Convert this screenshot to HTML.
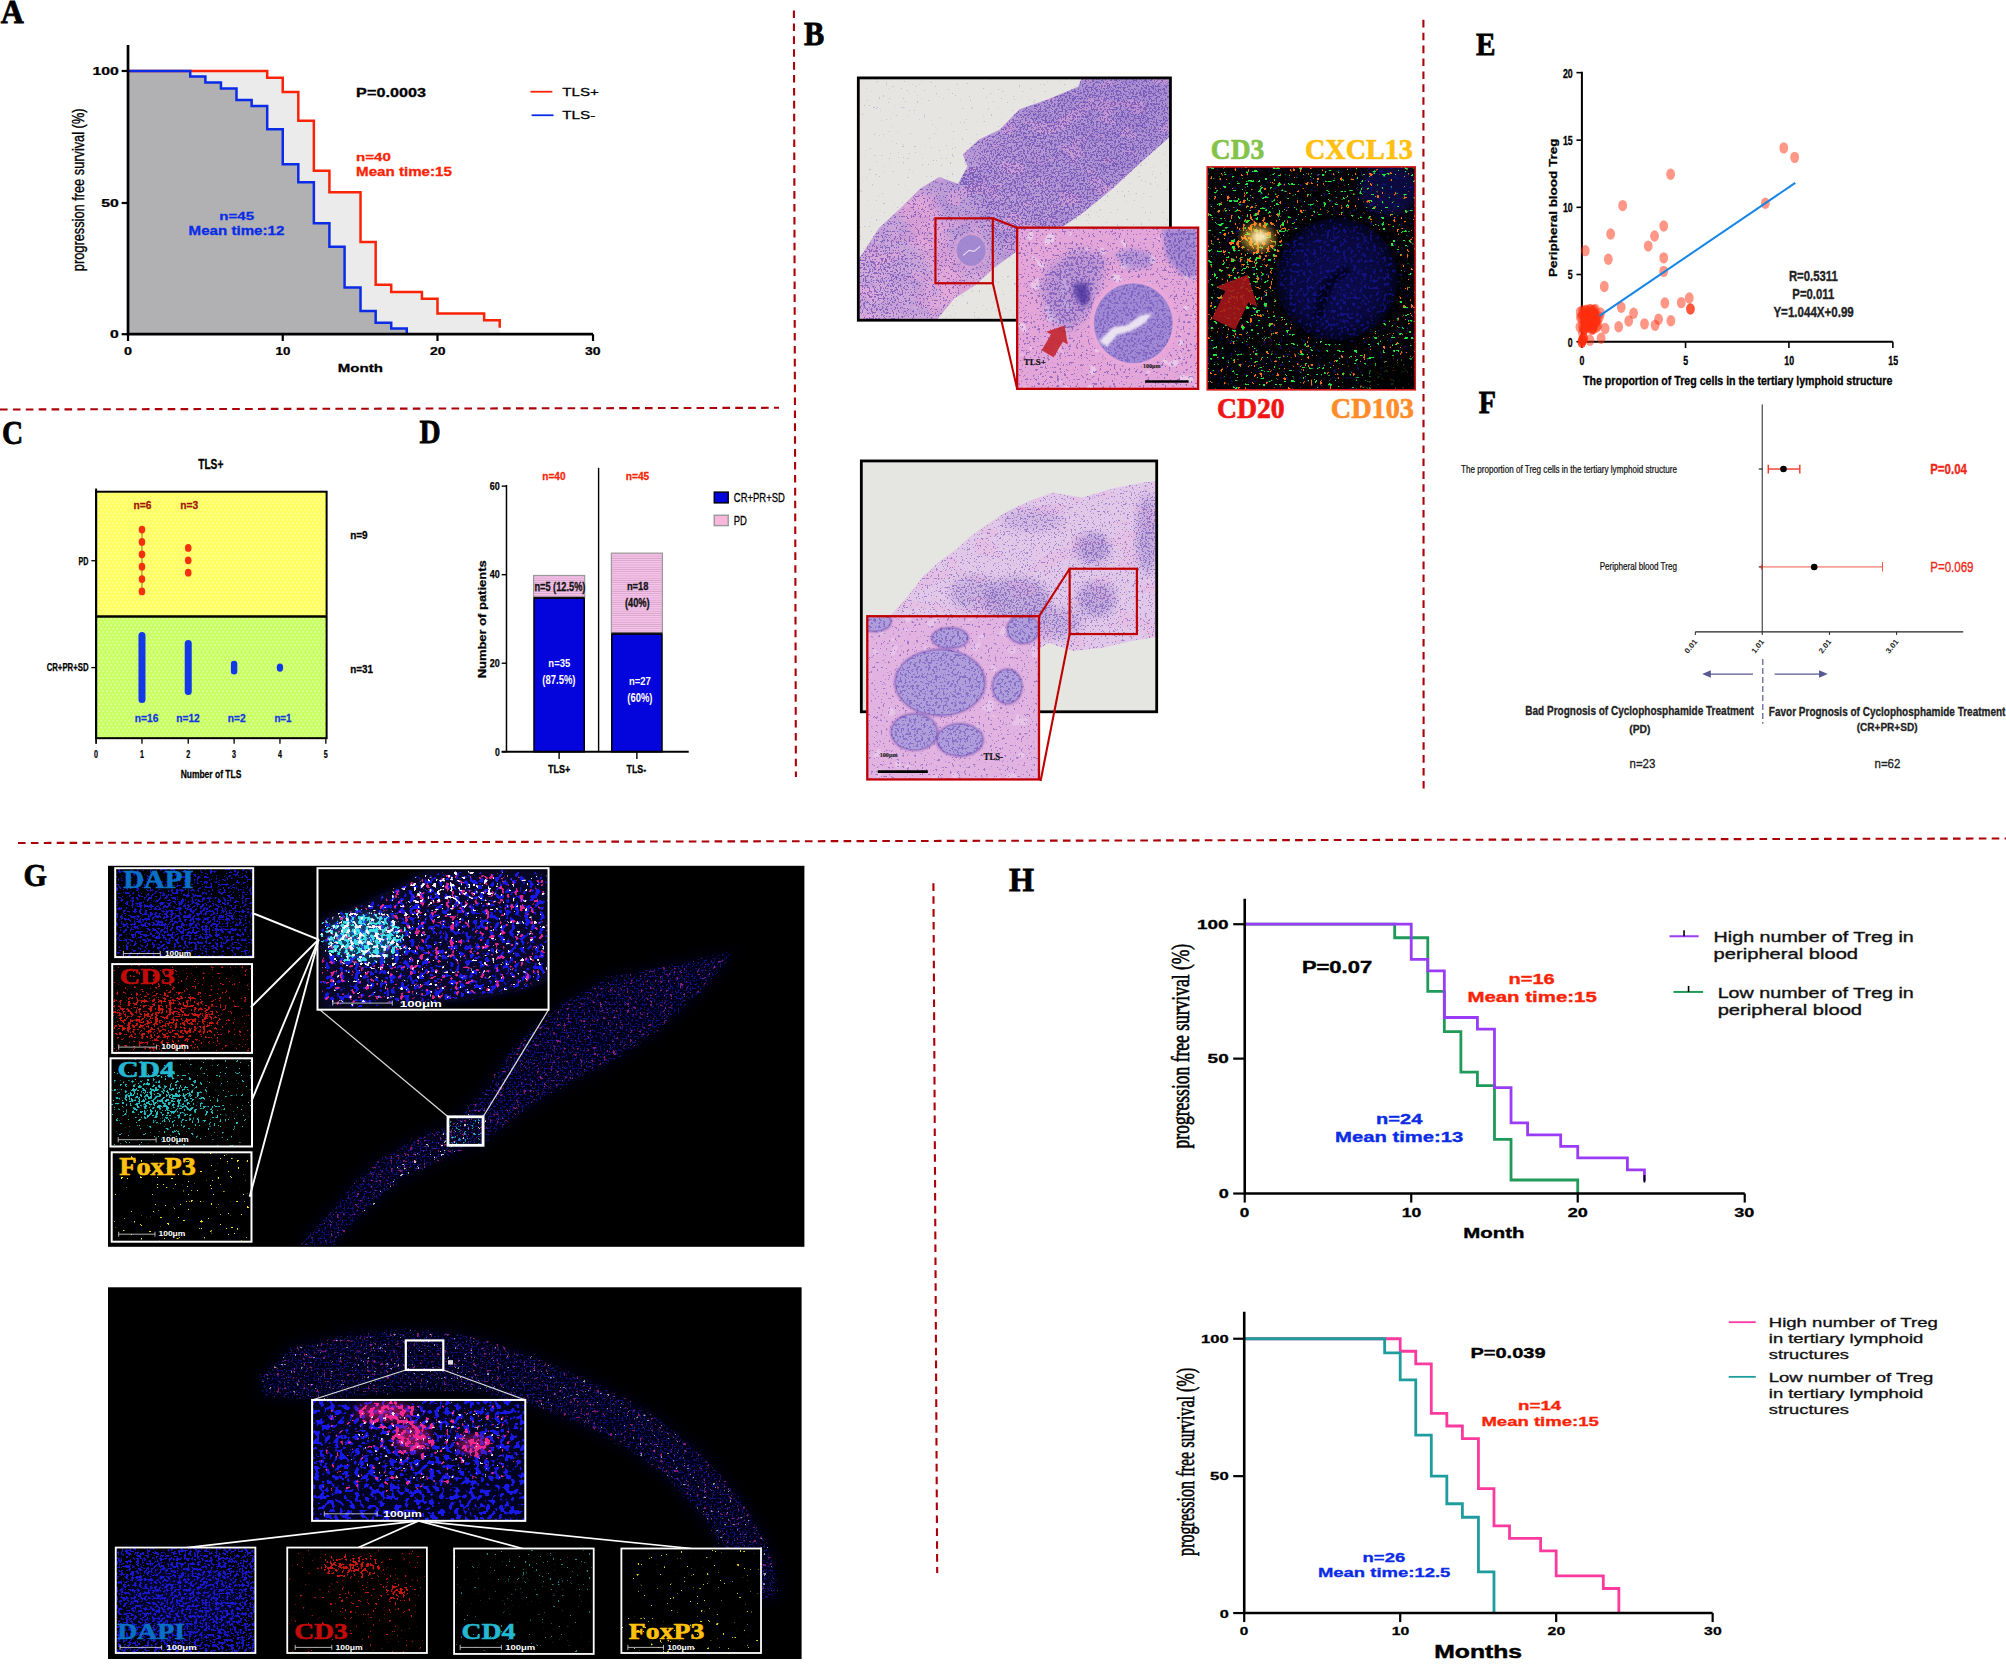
<!DOCTYPE html>
<html lang="en"><head><meta charset="utf-8"><title>Figure</title>
<style>html,body{margin:0;padding:0;background:#fff;}svg{display:block;}</style></head><body>
<svg width="2006" height="1668" viewBox="0 0 2006 1668">
<defs>
<pattern id="dotY" width="4" height="6.6" patternUnits="userSpaceOnUse"><rect width="4" height="6.6" fill="#ffff62"/><rect x="0.5" y="0.6" width="1.4" height="1.8" rx="0.6" fill="#ffffb0"/><rect x="2.5" y="3.9" width="1.4" height="1.8" rx="0.6" fill="#ffffb0"/></pattern>
<pattern id="dotG" width="4" height="6.6" patternUnits="userSpaceOnUse"><rect width="4" height="6.6" fill="#c8ff62"/><rect x="0.5" y="0.6" width="1.4" height="1.8" rx="0.6" fill="#ecffb8"/><rect x="2.5" y="3.9" width="1.4" height="1.8" rx="0.6" fill="#ecffb8"/></pattern>
<pattern id="stripe" width="4" height="2.2" patternUnits="userSpaceOnUse"><rect width="4" height="2.2" fill="#fcc4ee"/><rect y="1.3" width="4" height="0.9" fill="#d2a6c8"/></pattern>
<filter id="hN" x="0" y="0" width="100%" height="100%" color-interpolation-filters="sRGB"><feTurbulence type="fractalNoise" baseFrequency="0.55" numOctaves="2" seed="3" result="n"/><feComposite in="n" in2="SourceGraphic" operator="arithmetic" k1="0" k2="1" k3="0.5" k4="0" result="m"/><feColorMatrix in="m" type="matrix" values="0 0 0 0 0.329 0 0 0 0 0.220 0 0 0 0 0.659 0 0 0 12.500 -11.875"/></filter><filter id="hN2" x="0" y="0" width="100%" height="100%" color-interpolation-filters="sRGB"><feTurbulence type="fractalNoise" baseFrequency="0.42" numOctaves="2" seed="11" result="n"/><feComposite in="n" in2="SourceGraphic" operator="arithmetic" k1="0" k2="1" k3="0.5" k4="0" result="m"/><feColorMatrix in="m" type="matrix" values="0 0 0 0 0.361 0 0 0 0 0.259 0 0 0 0 0.690 0 0 0 12.500 -11.875"/></filter><filter id="hPk" x="0" y="0" width="100%" height="100%" color-interpolation-filters="sRGB"><feTurbulence type="fractalNoise" baseFrequency="0.035 0.06" numOctaves="3" seed="5" result="n"/><feComposite in="n" in2="SourceGraphic" operator="arithmetic" k1="0" k2="1" k3="0.5" k4="0" result="m"/><feColorMatrix in="m" type="matrix" values="0 0 0 0 0.933 0 0 0 0 0.651 0 0 0 0 0.847 0 0 0 8.333 -7.917"/></filter><filter id="hLt" x="0" y="0" width="100%" height="100%" color-interpolation-filters="sRGB"><feTurbulence type="fractalNoise" baseFrequency="0.07" numOctaves="2" seed="9" result="n"/><feComposite in="n" in2="SourceGraphic" operator="arithmetic" k1="0" k2="1" k3="0.5" k4="0" result="m"/><feColorMatrix in="m" type="matrix" values="0 0 0 0 0.941 0 0 0 0 0.902 0 0 0 0 0.957 0 0 0 12.500 -11.875"/></filter><filter id="hDk" x="0" y="0" width="100%" height="100%" color-interpolation-filters="sRGB"><feTurbulence type="fractalNoise" baseFrequency="0.04 0.07" numOctaves="3" seed="21" result="n"/><feComposite in="n" in2="SourceGraphic" operator="arithmetic" k1="0" k2="1" k3="0.5" k4="0" result="m"/><feColorMatrix in="m" type="matrix" values="0 0 0 0 0.471 0 0 0 0 0.369 0 0 0 0 0.753 0 0 0 5.000 -4.750"/></filter><filter id="fB" x="0" y="0" width="100%" height="100%" color-interpolation-filters="sRGB"><feTurbulence type="fractalNoise" baseFrequency="0.38" numOctaves="2" seed="2" result="n"/><feComposite in="n" in2="SourceGraphic" operator="arithmetic" k1="0" k2="1" k3="0.5" k4="0" result="m"/><feColorMatrix in="m" type="matrix" values="0 0 0 0 0.110 0 0 0 0 0.110 0 0 0 0 0.941 0 0 0 16.667 -15.833"/></filter><filter id="fBL" x="0" y="0" width="100%" height="100%" color-interpolation-filters="sRGB"><feTurbulence type="fractalNoise" baseFrequency="0.2" numOctaves="2" seed="41" result="n"/><feComposite in="n" in2="SourceGraphic" operator="arithmetic" k1="0" k2="1" k3="0.5" k4="0" result="m"/><feColorMatrix in="m" type="matrix" values="0 0 0 0 0.094 0 0 0 0 0.094 0 0 0 0 0.910 0 0 0 20.000 -19.000"/></filter><filter id="fML" x="0" y="0" width="100%" height="100%" color-interpolation-filters="sRGB"><feTurbulence type="fractalNoise" baseFrequency="0.2" numOctaves="2" seed="43" result="n"/><feComposite in="n" in2="SourceGraphic" operator="arithmetic" k1="0" k2="1" k3="0.5" k4="0" result="m"/><feColorMatrix in="m" type="matrix" values="0 0 0 0 0.980 0 0 0 0 0.157 0 0 0 0 0.588 0 0 0 20.000 -19.000"/></filter><filter id="fWL" x="0" y="0" width="100%" height="100%" color-interpolation-filters="sRGB"><feTurbulence type="fractalNoise" baseFrequency="0.24" numOctaves="2" seed="47" result="n"/><feComposite in="n" in2="SourceGraphic" operator="arithmetic" k1="0" k2="1" k3="0.5" k4="0" result="m"/><feColorMatrix in="m" type="matrix" values="0 0 0 0 1.000 0 0 0 0 0.941 0 0 0 0 1.000 0 0 0 20.000 -19.000"/></filter><filter id="fCL" x="0" y="0" width="100%" height="100%" color-interpolation-filters="sRGB"><feTurbulence type="fractalNoise" baseFrequency="0.24" numOctaves="2" seed="53" result="n"/><feComposite in="n" in2="SourceGraphic" operator="arithmetic" k1="0" k2="1" k3="0.5" k4="0" result="m"/><feColorMatrix in="m" type="matrix" values="0 0 0 0 0.235 0 0 0 0 0.882 0 0 0 0 0.922 0 0 0 20.000 -19.000"/></filter><filter id="fB2" x="0" y="0" width="100%" height="100%" color-interpolation-filters="sRGB"><feTurbulence type="fractalNoise" baseFrequency="0.5" numOctaves="2" seed="8" result="n"/><feComposite in="n" in2="SourceGraphic" operator="arithmetic" k1="0" k2="1" k3="0.5" k4="0" result="m"/><feColorMatrix in="m" type="matrix" values="0 0 0 0 0.125 0 0 0 0 0.125 0 0 0 0 0.843 0 0 0 12.500 -11.875"/></filter><filter id="fB3" x="0" y="0" width="100%" height="100%" color-interpolation-filters="sRGB"><feTurbulence type="fractalNoise" baseFrequency="0.3" numOctaves="2" seed="31" result="n"/><feComposite in="n" in2="SourceGraphic" operator="arithmetic" k1="0" k2="1" k3="0.5" k4="0" result="m"/><feColorMatrix in="m" type="matrix" values="0 0 0 0 0.118 0 0 0 0 0.118 0 0 0 0 0.843 0 0 0 12.500 -11.875"/></filter><filter id="fR" x="0" y="0" width="100%" height="100%" color-interpolation-filters="sRGB"><feTurbulence type="fractalNoise" baseFrequency="0.36" numOctaves="2" seed="4" result="n"/><feComposite in="n" in2="SourceGraphic" operator="arithmetic" k1="0" k2="1" k3="0.5" k4="0" result="m"/><feColorMatrix in="m" type="matrix" values="0 0 0 0 0.941 0 0 0 0 0.110 0 0 0 0 0.071 0 0 0 16.667 -15.833"/></filter><filter id="fC" x="0" y="0" width="100%" height="100%" color-interpolation-filters="sRGB"><feTurbulence type="fractalNoise" baseFrequency="0.36" numOctaves="2" seed="6" result="n"/><feComposite in="n" in2="SourceGraphic" operator="arithmetic" k1="0" k2="1" k3="0.5" k4="0" result="m"/><feColorMatrix in="m" type="matrix" values="0 0 0 0 0.173 0 0 0 0 0.886 0 0 0 0 0.902 0 0 0 16.667 -15.833"/></filter><filter id="fY" x="0" y="0" width="100%" height="100%" color-interpolation-filters="sRGB"><feTurbulence type="fractalNoise" baseFrequency="0.3" numOctaves="2" seed="12" result="n"/><feComposite in="n" in2="SourceGraphic" operator="arithmetic" k1="0" k2="1" k3="0.5" k4="0" result="m"/><feColorMatrix in="m" type="matrix" values="0 0 0 0 1.000 0 0 0 0 0.910 0 0 0 0 0.118 0 0 0 33.333 -31.667"/></filter><filter id="fG" x="0" y="0" width="100%" height="100%" color-interpolation-filters="sRGB"><feTurbulence type="fractalNoise" baseFrequency="0.22 0.3" numOctaves="2" seed="14" result="n"/><feComposite in="n" in2="SourceGraphic" operator="arithmetic" k1="0" k2="1" k3="0.5" k4="0" result="m"/><feColorMatrix in="m" type="matrix" values="0 0 0 0 0.157 0 0 0 0 0.910 0 0 0 0 0.275 0 0 0 25.000 -23.750"/></filter><filter id="fO" x="0" y="0" width="100%" height="100%" color-interpolation-filters="sRGB"><feTurbulence type="fractalNoise" baseFrequency="0.3 0.22" numOctaves="2" seed="17" result="n"/><feComposite in="n" in2="SourceGraphic" operator="arithmetic" k1="0" k2="1" k3="0.5" k4="0" result="m"/><feColorMatrix in="m" type="matrix" values="0 0 0 0 1.000 0 0 0 0 0.439 0 0 0 0 0.094 0 0 0 25.000 -23.750"/></filter><filter id="fW" x="0" y="0" width="100%" height="100%" color-interpolation-filters="sRGB"><feTurbulence type="fractalNoise" baseFrequency="0.3" numOctaves="2" seed="19" result="n"/><feComposite in="n" in2="SourceGraphic" operator="arithmetic" k1="0" k2="1" k3="0.5" k4="0" result="m"/><feColorMatrix in="m" type="matrix" values="0 0 0 0 1.000 0 0 0 0 0.957 0 0 0 0 1.000 0 0 0 20.000 -19.000"/></filter><filter id="fM" x="0" y="0" width="100%" height="100%" color-interpolation-filters="sRGB"><feTurbulence type="fractalNoise" baseFrequency="0.3" numOctaves="2" seed="23" result="n"/><feComposite in="n" in2="SourceGraphic" operator="arithmetic" k1="0" k2="1" k3="0.5" k4="0" result="m"/><feColorMatrix in="m" type="matrix" values="0 0 0 0 0.894 0 0 0 0 0.173 0 0 0 0 0.667 0 0 0 16.667 -15.833"/></filter><filter id="bl2"><feGaussianBlur stdDeviation="2"/></filter><filter id="bl4"><feGaussianBlur stdDeviation="4"/></filter><filter id="bl8"><feGaussianBlur stdDeviation="8"/></filter><filter id="bl1"><feGaussianBlur stdDeviation="0.8"/></filter><filter id="bl12"><feGaussianBlur stdDeviation="12"/></filter><linearGradient id="tisB1" gradientUnits="userSpaceOnUse" x1="880" y1="310" x2="1120" y2="110"><stop offset="0" stop-color="#d2aadb"/><stop offset="0.45" stop-color="#bb9cd6"/><stop offset="1" stop-color="#ac90d2"/></linearGradient><radialGradient id="glomB"><stop offset="0" stop-color="#121282"/><stop offset="0.75" stop-color="#0c0c60"/><stop offset="1" stop-color="#04042a"/></radialGradient></defs>
<rect width="2006" height="1668" fill="#fff"/>
<line x1="0.0" y1="409.5" x2="779.0" y2="407.8" stroke="#ab0008" stroke-width="2.1" stroke-dasharray="7.6 5.3"/>
<line x1="793.9" y1="10.5" x2="795.9" y2="777.0" stroke="#ab0008" stroke-width="2.1" stroke-dasharray="7.6 5.3"/>
<line x1="1423.4" y1="19.8" x2="1423.6" y2="793.0" stroke="#ab0008" stroke-width="2.1" stroke-dasharray="7.6 5.3"/>
<line x1="18.0" y1="843.0" x2="2006.0" y2="838.5" stroke="#ab0008" stroke-width="2.1" stroke-dasharray="7.6 5.3"/>
<line x1="933.4" y1="883.3" x2="937.2" y2="1573.0" stroke="#ab0008" stroke-width="2.1" stroke-dasharray="7.6 5.3"/>
<text x="0.70" y="22.57" font-family="'Liberation Serif', 'Times New Roman', serif" font-size="33.74" font-weight="bold" fill="#000" stroke="#000" stroke-width="0.81" text-anchor="start" textLength="23.03" lengthAdjust="spacingAndGlyphs" >A</text>
<path d="M128.02 70.99 L267.20 70.99 L267.20 77.77 L282.75 77.77 L282.75 92.12 L298.31 92.12 L298.31 120.84 L313.86 120.84 L313.86 170.69 L329.41 170.69 L329.41 192.22 L360.52 192.22 L360.52 242.07 L375.67 242.07 L375.67 284.75 L391.23 284.75 L391.23 291.92 L421.93 291.92 L421.93 298.70 L437.49 298.70 L437.49 313.46 L484.15 313.46 L484.15 320.24 L499.70 320.24 L499.70 327.82 L499.70 334.20 L128.02 334.20 Z" stroke="none" stroke-width="1.00" fill="#ebebeb" />
<path d="M128.02 70.99 L190.23 70.99 L190.23 76.57 L205.38 76.57 L205.38 82.55 L220.94 82.55 L220.94 88.53 L236.49 88.53 L236.49 100.10 L251.65 100.10 L251.65 106.08 L267.20 106.08 L267.20 129.21 L282.75 129.21 L282.75 164.31 L298.31 164.31 L298.31 182.25 L313.86 182.25 L313.86 223.33 L329.41 223.33 L329.41 246.86 L344.57 246.86 L344.57 287.54 L360.52 287.54 L360.52 311.07 L375.67 311.07 L375.67 322.63 L391.23 322.63 L391.23 328.61 L406.78 328.61 L406.78 334.20 L128.02 334.20 Z" stroke="none" stroke-width="1.00" fill="#b1b1b3" />
<path d="M128.02 70.99 L267.20 70.99 L267.20 77.77 L282.75 77.77 L282.75 92.12 L298.31 92.12 L298.31 120.84 L313.86 120.84 L313.86 170.69 L329.41 170.69 L329.41 192.22 L360.52 192.22 L360.52 242.07 L375.67 242.07 L375.67 284.75 L391.23 284.75 L391.23 291.92 L421.93 291.92 L421.93 298.70 L437.49 298.70 L437.49 313.46 L484.15 313.46 L484.15 320.24 L499.70 320.24 L499.70 327.82" stroke="#fa2306" stroke-width="2.50" fill="none" />
<path d="M128.02 70.99 L190.23 70.99 L190.23 76.57 L205.38 76.57 L205.38 82.55 L220.94 82.55 L220.94 88.53 L236.49 88.53 L236.49 100.10 L251.65 100.10 L251.65 106.08 L267.20 106.08 L267.20 129.21 L282.75 129.21 L282.75 164.31 L298.31 164.31 L298.31 182.25 L313.86 182.25 L313.86 223.33 L329.41 223.33 L329.41 246.86 L344.57 246.86 L344.57 287.54 L360.52 287.54 L360.52 311.07 L375.67 311.07 L375.67 322.63 L391.23 322.63 L391.23 328.61 L406.78 328.61 L406.78 334.20" stroke="#0a2ce6" stroke-width="2.50" fill="none" />
<path d="M128.02 45.06 L128.02 334.20 L593.02 334.20" stroke="#000" stroke-width="2.70" fill="none" />
<path d="M121.64 70.99 L128.02 70.99" stroke="#000" stroke-width="2.20" fill="none" />
<path d="M121.64 202.99 L128.02 202.99" stroke="#000" stroke-width="2.20" fill="none" />
<path d="M121.64 334.20 L128.02 334.20" stroke="#000" stroke-width="2.20" fill="none" />
<path d="M128.02 334.20 L128.02 340.98" stroke="#000" stroke-width="2.20" fill="none" />
<path d="M282.75 334.20 L282.75 340.98" stroke="#000" stroke-width="2.20" fill="none" />
<path d="M437.49 334.20 L437.49 340.98" stroke="#000" stroke-width="2.20" fill="none" />
<path d="M593.02 334.20 L593.02 340.98" stroke="#000" stroke-width="2.20" fill="none" />
<text x="92.52" y="74.58" font-family="'Liberation Sans', Arial, sans-serif" font-size="10.03" font-weight="bold" fill="#000" stroke="#000" stroke-width="0.24" text-anchor="start" textLength="26.32" lengthAdjust="spacingAndGlyphs" >100</text>
<text x="101.30" y="206.58" font-family="'Liberation Sans', Arial, sans-serif" font-size="10.03" font-weight="bold" fill="#000" stroke="#000" stroke-width="0.24" text-anchor="start" textLength="17.55" lengthAdjust="spacingAndGlyphs" >50</text>
<text x="110.07" y="338.19" font-family="'Liberation Sans', Arial, sans-serif" font-size="10.03" font-weight="bold" fill="#000" stroke="#000" stroke-width="0.24" text-anchor="start" textLength="8.77" lengthAdjust="spacingAndGlyphs" >0</text>
<text x="124.03" y="354.54" font-family="'Liberation Sans', Arial, sans-serif" font-size="10.03" font-weight="bold" fill="#000" stroke="#000" stroke-width="0.24" text-anchor="start" textLength="7.98" lengthAdjust="spacingAndGlyphs" >0</text>
<text x="275.57" y="354.54" font-family="'Liberation Sans', Arial, sans-serif" font-size="10.03" font-weight="bold" fill="#000" stroke="#000" stroke-width="0.24" text-anchor="start" textLength="14.76" lengthAdjust="spacingAndGlyphs" >10</text>
<text x="429.91" y="354.54" font-family="'Liberation Sans', Arial, sans-serif" font-size="10.03" font-weight="bold" fill="#000" stroke="#000" stroke-width="0.24" text-anchor="start" textLength="15.55" lengthAdjust="spacingAndGlyphs" >20</text>
<text x="585.04" y="354.54" font-family="'Liberation Sans', Arial, sans-serif" font-size="10.03" font-weight="bold" fill="#000" stroke="#000" stroke-width="0.24" text-anchor="start" textLength="15.55" lengthAdjust="spacingAndGlyphs" >30</text>
<text x="337.79" y="372.48" font-family="'Liberation Sans', Arial, sans-serif" font-size="11.14" font-weight="bold" fill="#000" stroke="#000" stroke-width="0.27" text-anchor="start" textLength="45.06" lengthAdjust="spacingAndGlyphs" >Month</text>
<text x="84.15" y="271.19" font-family="'Liberation Sans', Arial, sans-serif" font-size="15.60" font-weight="normal" fill="#000" stroke="#000" stroke-width="0.37" textLength="162.71" lengthAdjust="spacingAndGlyphs" transform="rotate(-90 84.15 271.19)">progression free survival (%)</text>
<text x="356.13" y="97.31" font-family="'Liberation Sans', Arial, sans-serif" font-size="13.37" font-weight="bold" fill="#000" stroke="#000" stroke-width="0.32" text-anchor="start" textLength="69.79" lengthAdjust="spacingAndGlyphs" >P=0.0003</text>
<path d="M530.41 91.72 L552.34 91.72" stroke="#fa2306" stroke-width="1.80" fill="none" />
<path d="M531.61 115.25 L553.54 115.25" stroke="#0a2ce6" stroke-width="1.80" fill="none" />
<text x="562.31" y="95.91" font-family="'Liberation Sans', Arial, sans-serif" font-size="11.70" font-weight="normal" fill="#000" stroke="#000" stroke-width="0.28" text-anchor="start" textLength="36.69" lengthAdjust="spacingAndGlyphs" >TLS+</text>
<text x="562.31" y="119.44" font-family="'Liberation Sans', Arial, sans-serif" font-size="11.70" font-weight="normal" fill="#000" stroke="#000" stroke-width="0.28" text-anchor="start" textLength="33.10" lengthAdjust="spacingAndGlyphs" >TLS-</text>
<text x="356.13" y="161.32" font-family="'Liberation Sans', Arial, sans-serif" font-size="11.70" font-weight="bold" fill="#fa2306" stroke="#fa2306" stroke-width="0.28" text-anchor="start" textLength="34.70" lengthAdjust="spacingAndGlyphs" >n=40</text>
<text x="356.13" y="176.27" font-family="'Liberation Sans', Arial, sans-serif" font-size="12.25" font-weight="bold" fill="#fa2306" stroke="#fa2306" stroke-width="0.29" text-anchor="start" textLength="95.71" lengthAdjust="spacingAndGlyphs" >Mean time:15</text>
<text x="219.34" y="220.34" font-family="'Liberation Sans', Arial, sans-serif" font-size="11.70" font-weight="bold" fill="#0a2ce6" stroke="#0a2ce6" stroke-width="0.28" text-anchor="start" textLength="34.70" lengthAdjust="spacingAndGlyphs" >n=45</text>
<text x="188.63" y="235.29" font-family="'Liberation Sans', Arial, sans-serif" font-size="12.25" font-weight="bold" fill="#0a2ce6" stroke="#0a2ce6" stroke-width="0.29" text-anchor="start" textLength="95.71" lengthAdjust="spacingAndGlyphs" >Mean time:12</text>
<text x="1.99" y="443.87" font-family="'Liberation Serif', 'Times New Roman', serif" font-size="33.13" font-weight="bold" fill="#000" stroke="#000" stroke-width="0.80" text-anchor="start" textLength="21.14" lengthAdjust="spacingAndGlyphs" >C</text>
<text x="198.21" y="468.79" font-family="'Liberation Sans', Arial, sans-serif" font-size="13.92" font-weight="bold" fill="#000" stroke="#000" stroke-width="0.33" text-anchor="start" textLength="25.12" lengthAdjust="spacingAndGlyphs" >TLS+</text>
<rect x="96.11" y="491.72" width="230.51" height="124.83" fill="url(#dotY)" stroke="none" stroke-width="1.00" />
<rect x="96.11" y="616.55" width="230.51" height="121.64" fill="url(#dotG)" stroke="none" stroke-width="1.00" />
<rect x="96.11" y="491.72" width="230.51" height="246.46" fill="none" stroke="#000" stroke-width="2.00" />
<path d="M96.11 616.55 L326.62 616.55" stroke="#000" stroke-width="2.40" fill="none" />
<path d="M96.11 488.53 L96.11 738.19" stroke="#000" stroke-width="2.00" fill="none" />
<path d="M96.11 738.19 L96.11 743.77" stroke="#000" stroke-width="1.30" fill="none" />
<path d="M96.11 738.19 L96.11 743.77" stroke="#000" stroke-width="1.30" fill="none" />
<path d="M141.97 738.19 L141.97 743.77" stroke="#000" stroke-width="1.30" fill="none" />
<path d="M188.24 738.19 L188.24 743.77" stroke="#000" stroke-width="1.30" fill="none" />
<path d="M234.10 738.19 L234.10 743.77" stroke="#000" stroke-width="1.30" fill="none" />
<path d="M279.96 738.19 L279.96 743.77" stroke="#000" stroke-width="1.30" fill="none" />
<path d="M325.82 738.19 L325.82 743.77" stroke="#000" stroke-width="1.30" fill="none" />
<path d="M91.33 560.72 L96.11 560.72" stroke="#000" stroke-width="1.30" fill="none" />
<path d="M91.33 667.60 L96.11 667.60" stroke="#000" stroke-width="1.30" fill="none" />
<text x="94.12" y="757.73" font-family="'Liberation Sans', Arial, sans-serif" font-size="10.03" font-weight="bold" fill="#000" stroke="#000" stroke-width="0.24" text-anchor="start" textLength="3.99" lengthAdjust="spacingAndGlyphs" >0</text>
<text x="139.98" y="757.73" font-family="'Liberation Sans', Arial, sans-serif" font-size="10.03" font-weight="bold" fill="#000" stroke="#000" stroke-width="0.24" text-anchor="start" textLength="3.99" lengthAdjust="spacingAndGlyphs" >1</text>
<text x="186.24" y="757.73" font-family="'Liberation Sans', Arial, sans-serif" font-size="10.03" font-weight="bold" fill="#000" stroke="#000" stroke-width="0.24" text-anchor="start" textLength="3.99" lengthAdjust="spacingAndGlyphs" >2</text>
<text x="232.10" y="757.73" font-family="'Liberation Sans', Arial, sans-serif" font-size="10.03" font-weight="bold" fill="#000" stroke="#000" stroke-width="0.24" text-anchor="start" textLength="3.99" lengthAdjust="spacingAndGlyphs" >3</text>
<text x="277.97" y="757.73" font-family="'Liberation Sans', Arial, sans-serif" font-size="10.03" font-weight="bold" fill="#000" stroke="#000" stroke-width="0.24" text-anchor="start" textLength="3.99" lengthAdjust="spacingAndGlyphs" >4</text>
<text x="323.83" y="757.73" font-family="'Liberation Sans', Arial, sans-serif" font-size="10.03" font-weight="bold" fill="#000" stroke="#000" stroke-width="0.24" text-anchor="start" textLength="3.99" lengthAdjust="spacingAndGlyphs" >5</text>
<text x="180.66" y="778.07" font-family="'Liberation Sans', Arial, sans-serif" font-size="11.14" font-weight="bold" fill="#000" stroke="#000" stroke-width="0.27" text-anchor="start" textLength="60.62" lengthAdjust="spacingAndGlyphs" >Number of TLS</text>
<text x="78.56" y="564.51" font-family="'Liberation Sans', Arial, sans-serif" font-size="10.58" font-weight="bold" fill="#000" stroke="#000" stroke-width="0.25" text-anchor="start" textLength="9.97" lengthAdjust="spacingAndGlyphs" >PD</text>
<text x="46.66" y="671.39" font-family="'Liberation Sans', Arial, sans-serif" font-size="10.58" font-weight="bold" fill="#000" stroke="#000" stroke-width="0.25" text-anchor="start" textLength="41.87" lengthAdjust="spacingAndGlyphs" >CR+PR+SD</text>
<text x="350.15" y="538.98" font-family="'Liberation Sans', Arial, sans-serif" font-size="11.70" font-weight="bold" fill="#000" stroke="#000" stroke-width="0.28" text-anchor="start" textLength="17.55" lengthAdjust="spacingAndGlyphs" >n=9</text>
<text x="350.15" y="673.38" font-family="'Liberation Sans', Arial, sans-serif" font-size="11.70" font-weight="bold" fill="#000" stroke="#000" stroke-width="0.28" text-anchor="start" textLength="22.73" lengthAdjust="spacingAndGlyphs" >n=31</text>
<text x="133.60" y="508.67" font-family="'Liberation Sans', Arial, sans-serif" font-size="11.70" font-weight="bold" fill="#a0140a" stroke="#a0140a" stroke-width="0.28" text-anchor="start" textLength="17.95" lengthAdjust="spacingAndGlyphs" >n=6</text>
<text x="180.26" y="508.67" font-family="'Liberation Sans', Arial, sans-serif" font-size="11.70" font-weight="bold" fill="#a0140a" stroke="#a0140a" stroke-width="0.28" text-anchor="start" textLength="17.95" lengthAdjust="spacingAndGlyphs" >n=3</text>
<text x="134.80" y="722.43" font-family="'Liberation Sans', Arial, sans-serif" font-size="11.70" font-weight="bold" fill="#1236e0" stroke="#1236e0" stroke-width="0.28" text-anchor="start" textLength="23.53" lengthAdjust="spacingAndGlyphs" >n=16</text>
<text x="176.27" y="722.03" font-family="'Liberation Sans', Arial, sans-serif" font-size="11.70" font-weight="bold" fill="#1236e0" stroke="#1236e0" stroke-width="0.28" text-anchor="start" textLength="23.53" lengthAdjust="spacingAndGlyphs" >n=12</text>
<text x="227.72" y="721.64" font-family="'Liberation Sans', Arial, sans-serif" font-size="11.70" font-weight="bold" fill="#1236e0" stroke="#1236e0" stroke-width="0.28" text-anchor="start" textLength="17.95" lengthAdjust="spacingAndGlyphs" >n=2</text>
<text x="274.38" y="721.64" font-family="'Liberation Sans', Arial, sans-serif" font-size="11.70" font-weight="bold" fill="#1236e0" stroke="#1236e0" stroke-width="0.28" text-anchor="start" textLength="17.15" lengthAdjust="spacingAndGlyphs" >n=1</text>
<path d="M141.97 529.61 L141.97 591.43" stroke="#6b5a1a" stroke-width="0.80" fill="none" />
<ellipse cx="141.97" cy="529.61" rx="3.3" ry="3.9" fill="#f5300f"/>
<ellipse cx="141.97" cy="541.97" rx="3.3" ry="3.9" fill="#f5300f"/>
<ellipse cx="141.97" cy="554.34" rx="3.3" ry="3.9" fill="#f5300f"/>
<ellipse cx="141.97" cy="566.70" rx="3.3" ry="3.9" fill="#f5300f"/>
<ellipse cx="141.97" cy="579.06" rx="3.3" ry="3.9" fill="#f5300f"/>
<ellipse cx="141.97" cy="591.43" rx="3.3" ry="3.9" fill="#f5300f"/>
<ellipse cx="188.24" cy="547.96" rx="3.3" ry="3.9" fill="#f5300f"/>
<ellipse cx="188.24" cy="560.32" rx="3.3" ry="3.9" fill="#f5300f"/>
<ellipse cx="188.24" cy="572.68" rx="3.3" ry="3.9" fill="#f5300f"/>
<rect x="138.47" y="632.10" width="7.00" height="70.99" rx="3.50" fill="#1238ea"/>
<rect x="184.74" y="640.08" width="7.00" height="55.03" rx="3.50" fill="#1238ea"/>
<rect x="230.90" y="660.82" width="6.40" height="13.56" rx="3.20" fill="#1238ea"/>
<ellipse cx="279.96" cy="667.60" rx="3.2" ry="4.2" fill="#1238ea"/>
<text x="419.54" y="443.47" font-family="'Liberation Serif', 'Times New Roman', serif" font-size="33.13" font-weight="bold" fill="#000" stroke="#000" stroke-width="0.80" text-anchor="start" textLength="21.14" lengthAdjust="spacingAndGlyphs" >D</text>
<rect x="534.00" y="598.21" width="50.25" height="153.54" fill="#0404dc" stroke="#000" stroke-width="1.50" />
<rect x="533.60" y="575.47" width="51.05" height="21.93" fill="url(#stripe)" stroke="#9a9a9a" stroke-width="1.20" />
<rect x="611.76" y="634.10" width="50.25" height="117.65" fill="#0404dc" stroke="#000" stroke-width="1.50" />
<rect x="611.37" y="553.14" width="51.05" height="80.16" fill="url(#stripe)" stroke="#9a9a9a" stroke-width="1.20" />
<path d="M533.60 597.41 L584.65 597.41" stroke="#111" stroke-width="1.40" fill="none" />
<path d="M611.37 633.30 L662.41 633.30" stroke="#111" stroke-width="1.40" fill="none" />
<path d="M506.48 484.95 L506.48 751.74" stroke="#000" stroke-width="1.50" fill="none" />
<path d="M501.69 751.74 L688.73 751.74" stroke="#000" stroke-width="1.80" fill="none" />
<path d="M598.60 467.80 L598.60 751.74" stroke="#000" stroke-width="1.40" fill="none" />
<path d="M501.69 486.14 L506.48 486.14" stroke="#000" stroke-width="1.40" fill="none" />
<path d="M501.69 574.68 L506.48 574.68" stroke="#000" stroke-width="1.40" fill="none" />
<path d="M501.69 663.21 L506.48 663.21" stroke="#000" stroke-width="1.40" fill="none" />
<path d="M501.69 751.74 L506.48 751.74" stroke="#000" stroke-width="1.40" fill="none" />
<path d="M559.12 751.74 L559.12 758.92" stroke="#000" stroke-width="1.40" fill="none" />
<path d="M636.89 751.74 L636.89 758.92" stroke="#000" stroke-width="1.40" fill="none" />
<text x="489.73" y="489.93" font-family="'Liberation Sans', Arial, sans-serif" font-size="10.58" font-weight="bold" fill="#000" stroke="#000" stroke-width="0.25" text-anchor="start" textLength="9.97" lengthAdjust="spacingAndGlyphs" >60</text>
<text x="489.73" y="578.46" font-family="'Liberation Sans', Arial, sans-serif" font-size="10.58" font-weight="bold" fill="#000" stroke="#000" stroke-width="0.25" text-anchor="start" textLength="9.97" lengthAdjust="spacingAndGlyphs" >40</text>
<text x="489.73" y="667.00" font-family="'Liberation Sans', Arial, sans-serif" font-size="10.58" font-weight="bold" fill="#000" stroke="#000" stroke-width="0.25" text-anchor="start" textLength="9.97" lengthAdjust="spacingAndGlyphs" >20</text>
<text x="494.92" y="755.53" font-family="'Liberation Sans', Arial, sans-serif" font-size="10.58" font-weight="bold" fill="#000" stroke="#000" stroke-width="0.25" text-anchor="start" textLength="4.79" lengthAdjust="spacingAndGlyphs" >0</text>
<text x="485.54" y="678.36" font-family="'Liberation Sans', Arial, sans-serif" font-size="10.58" font-weight="bold" fill="#000" stroke="#000" stroke-width="0.25" textLength="118.05" lengthAdjust="spacingAndGlyphs" transform="rotate(-90 485.54 678.36)">Number of patients</text>
<text x="542.37" y="479.96" font-family="'Liberation Sans', Arial, sans-serif" font-size="11.70" font-weight="bold" fill="#fa2306" stroke="#fa2306" stroke-width="0.28" text-anchor="start" textLength="23.13" lengthAdjust="spacingAndGlyphs" >n=40</text>
<text x="625.72" y="479.96" font-family="'Liberation Sans', Arial, sans-serif" font-size="11.70" font-weight="bold" fill="#fa2306" stroke="#fa2306" stroke-width="0.28" text-anchor="start" textLength="23.53" lengthAdjust="spacingAndGlyphs" >n=45</text>
<text x="547.96" y="773.28" font-family="'Liberation Sans', Arial, sans-serif" font-size="11.14" font-weight="bold" fill="#000" stroke="#000" stroke-width="0.27" text-anchor="start" textLength="22.33" lengthAdjust="spacingAndGlyphs" >TLS+</text>
<text x="626.52" y="773.28" font-family="'Liberation Sans', Arial, sans-serif" font-size="11.14" font-weight="bold" fill="#000" stroke="#000" stroke-width="0.27" text-anchor="start" textLength="19.54" lengthAdjust="spacingAndGlyphs" >TLS-</text>
<text x="534.40" y="591.03" font-family="'Liberation Sans', Arial, sans-serif" font-size="12.25" font-weight="bold" fill="#111" stroke="#111" stroke-width="0.29" text-anchor="start" textLength="51.05" lengthAdjust="spacingAndGlyphs" >n=5 (12.5%)</text>
<text x="626.92" y="590.03" font-family="'Liberation Sans', Arial, sans-serif" font-size="11.70" font-weight="bold" fill="#111" stroke="#111" stroke-width="0.28" text-anchor="start" textLength="21.54" lengthAdjust="spacingAndGlyphs" >n=18</text>
<text x="624.93" y="607.38" font-family="'Liberation Sans', Arial, sans-serif" font-size="13.37" font-weight="bold" fill="#111" stroke="#111" stroke-width="0.32" text-anchor="start" textLength="24.73" lengthAdjust="spacingAndGlyphs" >(40%)</text>
<text x="548.35" y="667.00" font-family="'Liberation Sans', Arial, sans-serif" font-size="11.70" font-weight="bold" fill="#fff" stroke="#fff" stroke-width="0.00" text-anchor="start" textLength="21.93" lengthAdjust="spacingAndGlyphs" >n=35</text>
<text x="542.37" y="683.95" font-family="'Liberation Sans', Arial, sans-serif" font-size="13.37" font-weight="bold" fill="#fff" stroke="#fff" stroke-width="0.00" text-anchor="start" textLength="33.10" lengthAdjust="spacingAndGlyphs" >(87.5%)</text>
<text x="628.91" y="684.95" font-family="'Liberation Sans', Arial, sans-serif" font-size="11.70" font-weight="bold" fill="#fff" stroke="#fff" stroke-width="0.00" text-anchor="start" textLength="21.93" lengthAdjust="spacingAndGlyphs" >n=27</text>
<text x="627.32" y="701.89" font-family="'Liberation Sans', Arial, sans-serif" font-size="13.37" font-weight="bold" fill="#fff" stroke="#fff" stroke-width="0.00" text-anchor="start" textLength="25.12" lengthAdjust="spacingAndGlyphs" >(60%)</text>
<rect x="714.26" y="492.12" width="13.96" height="10.77" fill="#0404dc" stroke="#000" stroke-width="1.40" />
<rect x="714.26" y="515.25" width="13.96" height="10.37" fill="#f8b8dc" stroke="#9a9a9a" stroke-width="1.40" />
<text x="733.80" y="502.09" font-family="'Liberation Sans', Arial, sans-serif" font-size="12.25" font-weight="normal" fill="#000" stroke="#000" stroke-width="0.29" text-anchor="start" textLength="51.05" lengthAdjust="spacingAndGlyphs" >CR+PR+SD</text>
<text x="733.80" y="524.83" font-family="'Liberation Sans', Arial, sans-serif" font-size="12.25" font-weight="normal" fill="#000" stroke="#000" stroke-width="0.29" text-anchor="start" textLength="13.16" lengthAdjust="spacingAndGlyphs" >PD</text>
<text x="1475.94" y="54.99" font-family="'Liberation Serif', 'Times New Roman', serif" font-size="32.53" font-weight="bold" fill="#000" stroke="#000" stroke-width="0.78" text-anchor="start" textLength="19.53" lengthAdjust="spacingAndGlyphs" >E</text>
<path d="M1581.90 71.79 L1581.90 341.70 L1892.87 341.70" stroke="#000" stroke-width="2.00" fill="none" />
<path d="M1576.44 72.65 L1581.90 72.65" stroke="#000" stroke-width="1.60" fill="none" />
<path d="M1576.44 140.13 L1581.90 140.13" stroke="#000" stroke-width="1.60" fill="none" />
<path d="M1576.44 207.32 L1581.90 207.32" stroke="#000" stroke-width="1.60" fill="none" />
<path d="M1576.44 274.51 L1581.90 274.51" stroke="#000" stroke-width="1.60" fill="none" />
<path d="M1576.44 341.70 L1581.90 341.70" stroke="#000" stroke-width="1.60" fill="none" />
<path d="M1581.90 341.70 L1581.90 348.02" stroke="#000" stroke-width="1.60" fill="none" />
<path d="M1685.56 341.70 L1685.56 348.02" stroke="#000" stroke-width="1.60" fill="none" />
<path d="M1788.93 341.70 L1788.93 348.02" stroke="#000" stroke-width="1.60" fill="none" />
<path d="M1892.87 341.70 L1892.87 348.02" stroke="#000" stroke-width="1.60" fill="none" />
<ellipse cx="1783.76" cy="147.88" rx="4.4" ry="5.7" fill="#ff2e0e" fill-opacity="0.5"/>
<ellipse cx="1794.67" cy="157.35" rx="4.4" ry="5.7" fill="#ff2e0e" fill-opacity="0.5"/>
<ellipse cx="1670.62" cy="174.30" rx="4.4" ry="5.7" fill="#ff2e0e" fill-opacity="0.5"/>
<ellipse cx="1622.67" cy="205.59" rx="4.4" ry="5.7" fill="#ff2e0e" fill-opacity="0.5"/>
<ellipse cx="1765.38" cy="203.30" rx="4.4" ry="5.7" fill="#ff2e0e" fill-opacity="0.5"/>
<ellipse cx="1663.73" cy="225.98" rx="4.4" ry="5.7" fill="#ff2e0e" fill-opacity="0.5"/>
<ellipse cx="1610.61" cy="234.02" rx="4.4" ry="5.7" fill="#ff2e0e" fill-opacity="0.5"/>
<ellipse cx="1654.54" cy="236.03" rx="4.4" ry="5.7" fill="#ff2e0e" fill-opacity="0.5"/>
<ellipse cx="1648.23" cy="246.08" rx="4.4" ry="5.7" fill="#ff2e0e" fill-opacity="0.5"/>
<ellipse cx="1585.34" cy="250.67" rx="4.4" ry="5.7" fill="#ff2e0e" fill-opacity="0.5"/>
<ellipse cx="1608.32" cy="259.29" rx="4.4" ry="5.7" fill="#ff2e0e" fill-opacity="0.5"/>
<ellipse cx="1663.73" cy="257.85" rx="4.4" ry="5.7" fill="#ff2e0e" fill-opacity="0.5"/>
<ellipse cx="1663.73" cy="271.35" rx="4.4" ry="5.7" fill="#ff2e0e" fill-opacity="0.5"/>
<ellipse cx="1604.30" cy="286.57" rx="4.4" ry="5.7" fill="#ff2e0e" fill-opacity="0.5"/>
<ellipse cx="1689.29" cy="298.05" rx="4.4" ry="5.7" fill="#ff2e0e" fill-opacity="0.5"/>
<ellipse cx="1664.88" cy="302.93" rx="4.4" ry="5.7" fill="#ff2e0e" fill-opacity="0.5"/>
<ellipse cx="1681.25" cy="302.65" rx="4.4" ry="5.7" fill="#ff2e0e" fill-opacity="0.5"/>
<ellipse cx="1621.24" cy="307.24" rx="4.4" ry="5.7" fill="#ff2e0e" fill-opacity="0.5"/>
<ellipse cx="1633.58" cy="313.27" rx="4.4" ry="5.7" fill="#ff2e0e" fill-opacity="0.5"/>
<ellipse cx="1600.56" cy="312.98" rx="4.4" ry="5.7" fill="#ff2e0e" fill-opacity="0.5"/>
<ellipse cx="1628.70" cy="321.02" rx="4.4" ry="5.7" fill="#ff2e0e" fill-opacity="0.5"/>
<ellipse cx="1658.56" cy="319.30" rx="4.4" ry="5.7" fill="#ff2e0e" fill-opacity="0.5"/>
<ellipse cx="1644.49" cy="323.90" rx="4.4" ry="5.7" fill="#ff2e0e" fill-opacity="0.5"/>
<ellipse cx="1655.12" cy="325.33" rx="4.4" ry="5.7" fill="#ff2e0e" fill-opacity="0.5"/>
<ellipse cx="1670.91" cy="320.74" rx="4.4" ry="5.7" fill="#ff2e0e" fill-opacity="0.5"/>
<ellipse cx="1618.65" cy="326.77" rx="4.4" ry="5.7" fill="#ff2e0e" fill-opacity="0.5"/>
<ellipse cx="1605.16" cy="328.49" rx="4.4" ry="5.7" fill="#ff2e0e" fill-opacity="0.5"/>
<ellipse cx="1601.14" cy="338.25" rx="4.4" ry="5.7" fill="#ff2e0e" fill-opacity="0.5"/>
<ellipse cx="1589.94" cy="340.26" rx="4.4" ry="5.7" fill="#ff2e0e" fill-opacity="0.5"/>
<ellipse cx="1590.51" cy="324.18" rx="4.4" ry="5.7" fill="#ff2e0e" fill-opacity="0.5"/>
<ellipse cx="1593.38" cy="328.78" rx="4.4" ry="5.7" fill="#ff2e0e" fill-opacity="0.5"/>
<ellipse cx="1592.52" cy="328.20" rx="4.4" ry="5.7" fill="#ff2e0e" fill-opacity="0.5"/>
<ellipse cx="1580.46" cy="317.58" rx="4.4" ry="5.7" fill="#ff2e0e" fill-opacity="0.5"/>
<ellipse cx="1595.97" cy="321.89" rx="4.4" ry="5.7" fill="#ff2e0e" fill-opacity="0.5"/>
<ellipse cx="1595.39" cy="309.54" rx="4.4" ry="5.7" fill="#ff2e0e" fill-opacity="0.5"/>
<ellipse cx="1587.93" cy="312.70" rx="4.4" ry="5.7" fill="#ff2e0e" fill-opacity="0.5"/>
<ellipse cx="1589.36" cy="320.16" rx="4.4" ry="5.7" fill="#ff2e0e" fill-opacity="0.5"/>
<ellipse cx="1580.18" cy="312.12" rx="4.4" ry="5.7" fill="#ff2e0e" fill-opacity="0.5"/>
<ellipse cx="1584.77" cy="328.20" rx="4.4" ry="5.7" fill="#ff2e0e" fill-opacity="0.5"/>
<ellipse cx="1593.10" cy="310.69" rx="4.4" ry="5.7" fill="#ff2e0e" fill-opacity="0.5"/>
<ellipse cx="1593.67" cy="310.11" rx="4.4" ry="5.7" fill="#ff2e0e" fill-opacity="0.5"/>
<ellipse cx="1590.51" cy="309.83" rx="4.4" ry="5.7" fill="#ff2e0e" fill-opacity="0.5"/>
<ellipse cx="1579.89" cy="327.05" rx="4.4" ry="5.7" fill="#ff2e0e" fill-opacity="0.5"/>
<ellipse cx="1583.62" cy="311.84" rx="4.4" ry="5.7" fill="#ff2e0e" fill-opacity="0.5"/>
<ellipse cx="1596.83" cy="327.05" rx="4.4" ry="5.7" fill="#ff2e0e" fill-opacity="0.5"/>
<ellipse cx="1585.06" cy="329.06" rx="4.4" ry="5.7" fill="#ff2e0e" fill-opacity="0.5"/>
<ellipse cx="1589.08" cy="322.46" rx="4.4" ry="5.7" fill="#ff2e0e" fill-opacity="0.5"/>
<ellipse cx="1583.62" cy="328.78" rx="4.4" ry="5.7" fill="#ff2e0e" fill-opacity="0.5"/>
<ellipse cx="1591.66" cy="329.35" rx="4.4" ry="5.7" fill="#ff2e0e" fill-opacity="0.5"/>
<ellipse cx="1595.11" cy="313.85" rx="4.4" ry="5.7" fill="#ff2e0e" fill-opacity="0.5"/>
<ellipse cx="1586.21" cy="310.69" rx="4.4" ry="5.7" fill="#ff2e0e" fill-opacity="0.5"/>
<ellipse cx="1583.05" cy="314.42" rx="4.4" ry="5.7" fill="#ff2e0e" fill-opacity="0.5"/>
<ellipse cx="1585.06" cy="315.86" rx="4.4" ry="5.7" fill="#ff2e0e" fill-opacity="0.5"/>
<ellipse cx="1587.07" cy="321.60" rx="4.4" ry="5.7" fill="#ff2e0e" fill-opacity="0.5"/>
<ellipse cx="1589.65" cy="323.03" rx="4.4" ry="5.7" fill="#ff2e0e" fill-opacity="0.5"/>
<ellipse cx="1591.66" cy="318.15" rx="4.4" ry="5.7" fill="#ff2e0e" fill-opacity="0.5"/>
<ellipse cx="1593.67" cy="325.91" rx="4.4" ry="5.7" fill="#ff2e0e" fill-opacity="0.5"/>
<ellipse cx="1584.48" cy="321.02" rx="4.4" ry="5.7" fill="#ff2e0e" fill-opacity="0.5"/>
<ellipse cx="1588.50" cy="313.56" rx="4.4" ry="5.7" fill="#ff2e0e" fill-opacity="0.5"/>
<ellipse cx="1595.68" cy="318.15" rx="4.4" ry="5.7" fill="#ff2e0e" fill-opacity="0.5"/>
<ellipse cx="1586.21" cy="325.91" rx="4.4" ry="5.7" fill="#ff2e0e" fill-opacity="0.5"/>
<ellipse cx="1582.47" cy="310.69" rx="4.4" ry="5.7" fill="#ff2e0e" fill-opacity="0.5"/>
<ellipse cx="1586.49" cy="310.11" rx="4.4" ry="5.7" fill="#ff2e0e" fill-opacity="0.5"/>
<ellipse cx="1589.94" cy="309.54" rx="4.4" ry="5.7" fill="#ff2e0e" fill-opacity="0.5"/>
<ellipse cx="1592.52" cy="312.98" rx="4.4" ry="5.7" fill="#ff2e0e" fill-opacity="0.5"/>
<ellipse cx="1595.11" cy="315.86" rx="4.4" ry="5.7" fill="#ff2e0e" fill-opacity="0.5"/>
<ellipse cx="1597.40" cy="319.30" rx="4.4" ry="5.7" fill="#ff2e0e" fill-opacity="0.5"/>
<ellipse cx="1587.35" cy="315.86" rx="4.4" ry="5.7" fill="#ff2e0e" fill-opacity="0.5"/>
<ellipse cx="1583.91" cy="318.15" rx="4.4" ry="5.7" fill="#ff2e0e" fill-opacity="0.5"/>
<ellipse cx="1590.80" cy="320.16" rx="4.4" ry="5.7" fill="#ff2e0e" fill-opacity="0.5"/>
<ellipse cx="1594.25" cy="323.03" rx="4.4" ry="5.7" fill="#ff2e0e" fill-opacity="0.5"/>
<ellipse cx="1597.98" cy="325.04" rx="4.4" ry="5.7" fill="#ff2e0e" fill-opacity="0.5"/>
<ellipse cx="1585.06" cy="323.90" rx="4.4" ry="5.7" fill="#ff2e0e" fill-opacity="0.5"/>
<ellipse cx="1588.79" cy="326.77" rx="4.4" ry="5.7" fill="#ff2e0e" fill-opacity="0.5"/>
<ellipse cx="1592.52" cy="327.92" rx="4.4" ry="5.7" fill="#ff2e0e" fill-opacity="0.5"/>
<ellipse cx="1595.97" cy="321.60" rx="4.4" ry="5.7" fill="#ff2e0e" fill-opacity="0.5"/>
<ellipse cx="1582.47" cy="326.19" rx="4.4" ry="5.7" fill="#ff2e0e" fill-opacity="0.5"/>
<ellipse cx="1582.47" cy="333.08" rx="4.4" ry="5.7" fill="#ff2e0e" fill-opacity="0.5"/>
<ellipse cx="1586.49" cy="319.30" rx="4.4" ry="5.7" fill="#ff2e0e" fill-opacity="0.5"/>
<ellipse cx="1599.41" cy="317.29" rx="4.4" ry="5.7" fill="#ff2e0e" fill-opacity="0.5"/>
<ellipse cx="1581.61" cy="317.29" rx="4.4" ry="5.7" fill="#ff2e0e" fill-opacity="0.5"/>
<ellipse cx="1690.44" cy="308.96" rx="4.4" ry="5.7" fill="#ff2a0a" fill-opacity="0.8"/>
<ellipse cx="1582.47" cy="340.26" rx="4.4" ry="5.7" fill="#ff2a0a" fill-opacity="0.8"/>
<ellipse cx="1581.90" cy="342.27" rx="4.4" ry="5.7" fill="#ff2a0a" fill-opacity="0.8"/>
<ellipse cx="1583.62" cy="338.25" rx="4.4" ry="5.7" fill="#ff2a0a" fill-opacity="0.8"/>
<path d="M1599.41 315.86 L1795.24 182.91" stroke="#1585e6" stroke-width="2.00" fill="none" />
<text x="1562.95" y="77.82" font-family="'Liberation Sans', Arial, sans-serif" font-size="12.03" font-weight="bold" fill="#000" stroke="#000" stroke-width="0.29" text-anchor="start" textLength="9.76" lengthAdjust="spacingAndGlyphs" >20</text>
<text x="1562.95" y="145.01" font-family="'Liberation Sans', Arial, sans-serif" font-size="12.03" font-weight="bold" fill="#000" stroke="#000" stroke-width="0.29" text-anchor="start" textLength="9.76" lengthAdjust="spacingAndGlyphs" >15</text>
<text x="1562.95" y="212.20" font-family="'Liberation Sans', Arial, sans-serif" font-size="12.03" font-weight="bold" fill="#000" stroke="#000" stroke-width="0.29" text-anchor="start" textLength="9.76" lengthAdjust="spacingAndGlyphs" >10</text>
<text x="1567.83" y="279.39" font-family="'Liberation Sans', Arial, sans-serif" font-size="12.03" font-weight="bold" fill="#000" stroke="#000" stroke-width="0.29" text-anchor="start" textLength="4.88" lengthAdjust="spacingAndGlyphs" >5</text>
<text x="1567.83" y="346.58" font-family="'Liberation Sans', Arial, sans-serif" font-size="12.03" font-weight="bold" fill="#000" stroke="#000" stroke-width="0.29" text-anchor="start" textLength="4.88" lengthAdjust="spacingAndGlyphs" >0</text>
<text x="1579.60" y="364.67" font-family="'Liberation Sans', Arial, sans-serif" font-size="12.03" font-weight="bold" fill="#000" stroke="#000" stroke-width="0.29" text-anchor="start" textLength="4.88" lengthAdjust="spacingAndGlyphs" >0</text>
<text x="1683.26" y="364.67" font-family="'Liberation Sans', Arial, sans-serif" font-size="12.03" font-weight="bold" fill="#000" stroke="#000" stroke-width="0.29" text-anchor="start" textLength="4.88" lengthAdjust="spacingAndGlyphs" >5</text>
<text x="1784.33" y="364.67" font-family="'Liberation Sans', Arial, sans-serif" font-size="12.03" font-weight="bold" fill="#000" stroke="#000" stroke-width="0.29" text-anchor="start" textLength="9.76" lengthAdjust="spacingAndGlyphs" >10</text>
<text x="1888.28" y="364.67" font-family="'Liberation Sans', Arial, sans-serif" font-size="12.03" font-weight="bold" fill="#000" stroke="#000" stroke-width="0.29" text-anchor="start" textLength="9.76" lengthAdjust="spacingAndGlyphs" >15</text>
<text x="1583.05" y="385.34" font-family="'Liberation Sans', Arial, sans-serif" font-size="12.83" font-weight="bold" fill="#000" stroke="#000" stroke-width="0.31" text-anchor="start" textLength="309.25" lengthAdjust="spacingAndGlyphs" >The proportion of Treg cells in the tertiary lymphoid structure</text>
<text x="1556.92" y="277.09" font-family="'Liberation Sans', Arial, sans-serif" font-size="11.23" font-weight="bold" fill="#000" stroke="#000" stroke-width="0.27" textLength="138.69" lengthAdjust="spacingAndGlyphs" transform="rotate(-90 1556.92 277.09)">Peripheral blood Treg</text>
<text x="1788.93" y="280.82" font-family="'Liberation Sans', Arial, sans-serif" font-size="14.44" font-weight="bold" fill="#222" stroke="#222" stroke-width="0.35" text-anchor="start" textLength="48.81" lengthAdjust="spacingAndGlyphs" >R=0.5311</text>
<text x="1792.37" y="298.91" font-family="'Liberation Sans', Arial, sans-serif" font-size="14.44" font-weight="bold" fill="#222" stroke="#222" stroke-width="0.35" text-anchor="start" textLength="41.92" lengthAdjust="spacingAndGlyphs" >P=0.011</text>
<text x="1773.42" y="317.00" font-family="'Liberation Sans', Arial, sans-serif" font-size="14.44" font-weight="bold" fill="#222" stroke="#222" stroke-width="0.35" text-anchor="start" textLength="80.40" lengthAdjust="spacingAndGlyphs" >Y=1.044X+0.99</text>
<text x="1478.81" y="412.59" font-family="'Liberation Serif', 'Times New Roman', serif" font-size="32.53" font-weight="bold" fill="#000" stroke="#000" stroke-width="0.78" text-anchor="start" textLength="17.23" lengthAdjust="spacingAndGlyphs" >F</text>
<path d="M1762.22 404.41 L1762.22 631.82" stroke="#222" stroke-width="1.00" fill="none" />
<path d="M1695.32 631.82 L1963.22 631.82" stroke="#222" stroke-width="1.20" fill="none" />
<path d="M1695.32 631.82 L1695.32 634.98" stroke="#222" stroke-width="1.00" fill="none" />
<path d="M1762.22 631.82 L1762.22 634.98" stroke="#222" stroke-width="1.00" fill="none" />
<path d="M1829.41 631.82 L1829.41 634.98" stroke="#222" stroke-width="1.00" fill="none" />
<path d="M1896.61 631.82 L1896.61 634.98" stroke="#222" stroke-width="1.00" fill="none" />
<path d="M1758.78 469.01 L1762.22 469.01" stroke="#000" stroke-width="1.00" fill="none" />
<path d="M1758.78 566.93 L1762.22 566.93" stroke="#000" stroke-width="1.00" fill="none" />
<path d="M1768.25 469.01 L1799.84 469.01" stroke="#f0281a" stroke-width="1.30" fill="none" />
<path d="M1768.25 464.71 L1768.25 473.61" stroke="#f0281a" stroke-width="1.30" fill="none" />
<path d="M1799.84 464.71 L1799.84 473.61" stroke="#f0281a" stroke-width="1.30" fill="none" />
<path d="M1761.07 566.93 L1882.54 566.93" stroke="#f0281a" stroke-width="0.80" fill="none" />
<path d="M1882.54 562.05 L1882.54 571.52" stroke="#f0281a" stroke-width="0.80" fill="none" />
<path d="M1761.36 564.63 L1761.36 569.51" stroke="#f0281a" stroke-width="0.80" fill="none" />
<circle cx="1783.47" cy="469.01" r="3.3" fill="#000"/>
<circle cx="1814.20" cy="566.93" r="3.3" fill="#000"/>
<text x="1461.01" y="472.60" font-family="'Liberation Sans', Arial, sans-serif" font-size="10.03" font-weight="normal" fill="#111" stroke="#111" stroke-width="0.24" text-anchor="start" textLength="215.93" lengthAdjust="spacingAndGlyphs" >The proportion of Treg cells in the tertiary lymphoid structure</text>
<text x="1599.70" y="570.23" font-family="'Liberation Sans', Arial, sans-serif" font-size="10.03" font-weight="normal" fill="#111" stroke="#111" stroke-width="0.24" text-anchor="start" textLength="77.24" lengthAdjust="spacingAndGlyphs" >Peripheral blood Treg</text>
<text x="1930.20" y="474.18" font-family="'Liberation Sans', Arial, sans-serif" font-size="14.44" font-weight="bold" fill="#f0281a" stroke="#f0281a" stroke-width="0.35" text-anchor="start" textLength="36.75" lengthAdjust="spacingAndGlyphs" >P=0.04</text>
<text x="1930.20" y="572.38" font-family="'Liberation Sans', Arial, sans-serif" font-size="14.44" font-weight="normal" fill="#f0281a" stroke="#f0281a" stroke-width="0.35" text-anchor="start" textLength="43.36" lengthAdjust="spacingAndGlyphs" >P=0.069</text>
<text x="1697.62" y="641.87" font-family="'Liberation Sans', Arial, sans-serif" font-size="7.6" font-weight="bold" fill="#222" text-anchor="end" transform="rotate(-52 1697.62 641.87)" textLength="15.5" lengthAdjust="spacingAndGlyphs">0.01</text>
<text x="1764.52" y="641.87" font-family="'Liberation Sans', Arial, sans-serif" font-size="7.6" font-weight="bold" fill="#222" text-anchor="end" transform="rotate(-52 1764.52 641.87)" textLength="15.5" lengthAdjust="spacingAndGlyphs">1.01</text>
<text x="1831.71" y="641.87" font-family="'Liberation Sans', Arial, sans-serif" font-size="7.6" font-weight="bold" fill="#222" text-anchor="end" transform="rotate(-52 1831.71 641.87)" textLength="15.5" lengthAdjust="spacingAndGlyphs">2.01</text>
<text x="1898.90" y="641.87" font-family="'Liberation Sans', Arial, sans-serif" font-size="7.6" font-weight="bold" fill="#222" text-anchor="end" transform="rotate(-52 1898.90 641.87)" textLength="15.5" lengthAdjust="spacingAndGlyphs">3.01</text>
<line x1="1762.80" y1="659.10" x2="1762.80" y2="723.71" stroke="#565a92" stroke-width="1.2" stroke-dasharray="6 3"/>
<path d="M1753.03 674.03 L1708.53 674.03" stroke="#565a92" stroke-width="1.30" fill="none" />
<path d="M1702.21 674.03 L1710.82 670.30 L1710.82 677.77 Z" stroke="none" stroke-width="1.00" fill="#565a92" />
<path d="M1774.57 674.03 L1821.09 674.03" stroke="#565a92" stroke-width="1.30" fill="none" />
<path d="M1827.69 674.03 L1819.08 670.30 L1819.08 677.77 Z" stroke="none" stroke-width="1.00" fill="#565a92" />
<text x="1525.33" y="715.09" font-family="'Liberation Sans', Arial, sans-serif" font-size="13.64" font-weight="bold" fill="#222" stroke="#222" stroke-width="0.33" text-anchor="start" textLength="228.56" lengthAdjust="spacingAndGlyphs" >Bad Prognosis of Cyclophosphamide Treatment</text>
<text x="1629.28" y="732.90" font-family="'Liberation Sans', Arial, sans-serif" font-size="11.12" font-weight="bold" fill="#222" stroke="#222" stroke-width="0.27" text-anchor="start" textLength="21.25" lengthAdjust="spacingAndGlyphs" >(PD)</text>
<text x="1768.83" y="715.67" font-family="'Liberation Sans', Arial, sans-serif" font-size="13.64" font-weight="bold" fill="#222" stroke="#222" stroke-width="0.33" text-anchor="start" textLength="236.60" lengthAdjust="spacingAndGlyphs" >Favor Prognosis of Cyclophosphamide Treatment</text>
<text x="1856.69" y="731.17" font-family="'Liberation Sans', Arial, sans-serif" font-size="11.12" font-weight="bold" fill="#222" stroke="#222" stroke-width="0.27" text-anchor="start" textLength="60.87" lengthAdjust="spacingAndGlyphs" >(CR+PR+SD)</text>
<text x="1629.56" y="767.64" font-family="'Liberation Sans', Arial, sans-serif" font-size="13.64" font-weight="normal" fill="#222" stroke="#222" stroke-width="0.33" text-anchor="start" textLength="25.84" lengthAdjust="spacingAndGlyphs" >n=23</text>
<text x="1874.50" y="767.64" font-family="'Liberation Sans', Arial, sans-serif" font-size="13.64" font-weight="normal" fill="#222" stroke="#222" stroke-width="0.33" text-anchor="start" textLength="25.84" lengthAdjust="spacingAndGlyphs" >n=62</text>
<text x="1009.03" y="890.62" font-family="'Liberation Serif', 'Times New Roman', serif" font-size="33.33" font-weight="bold" fill="#000" stroke="#000" stroke-width="0.80" text-anchor="start" textLength="25.08" lengthAdjust="spacingAndGlyphs" >H</text>
<path d="M1244.73 924.22 L1394.68 924.22 L1394.68 937.76 L1427.78 937.76 L1427.78 991.42 L1444.33 991.42 L1444.33 1031.54 L1460.88 1031.54 L1460.88 1072.17 L1477.43 1072.17 L1477.43 1085.71 L1494.48 1085.71 L1494.48 1139.37 L1511.03 1139.37 L1511.03 1179.99 L1577.73 1179.99 L1577.73 1193.53" stroke="#1f9a58" stroke-width="2.80" fill="none" />
<path d="M1244.73 924.22 L1411.23 924.22 L1411.23 959.33 L1427.78 959.33 L1427.78 970.86 L1444.33 970.86 L1444.33 1017.50 L1477.43 1017.50 L1477.43 1029.04 L1494.48 1029.04 L1494.48 1087.71 L1511.03 1087.71 L1511.03 1122.82 L1527.58 1122.82 L1527.58 1134.85 L1560.68 1134.85 L1560.68 1146.39 L1577.73 1146.39 L1577.73 1157.92 L1627.38 1157.92 L1627.38 1169.96 L1644.43 1169.96 L1644.43 1180.99" stroke="#9a3cf5" stroke-width="2.80" fill="none" />
<path d="M1644.43 1174.97 L1644.43 1182.50" stroke="#000" stroke-width="1.80" fill="none" />
<path d="M1244.73 898.65 L1244.73 1193.53 L1744.73 1193.53" stroke="#000" stroke-width="2.60" fill="none" />
<path d="M1233.20 924.22 L1244.73 924.22" stroke="#000" stroke-width="2.20" fill="none" />
<path d="M1233.20 1058.63 L1244.73 1058.63" stroke="#000" stroke-width="2.20" fill="none" />
<path d="M1233.20 1193.53 L1244.73 1193.53" stroke="#000" stroke-width="2.20" fill="none" />
<path d="M1244.73 1193.53 L1244.73 1202.56" stroke="#000" stroke-width="2.20" fill="none" />
<path d="M1411.23 1193.53 L1411.23 1202.56" stroke="#000" stroke-width="2.20" fill="none" />
<path d="M1577.73 1193.53 L1577.73 1202.56" stroke="#000" stroke-width="2.20" fill="none" />
<path d="M1744.73 1193.53 L1744.73 1202.56" stroke="#000" stroke-width="2.20" fill="none" />
<text x="1197.09" y="929.24" font-family="'Liberation Sans', Arial, sans-serif" font-size="12.61" font-weight="bold" fill="#000" stroke="#000" stroke-width="0.30" text-anchor="start" textLength="31.59" lengthAdjust="spacingAndGlyphs" >100</text>
<text x="1207.62" y="1063.14" font-family="'Liberation Sans', Arial, sans-serif" font-size="12.61" font-weight="bold" fill="#000" stroke="#000" stroke-width="0.30" text-anchor="start" textLength="21.06" lengthAdjust="spacingAndGlyphs" >50</text>
<text x="1218.66" y="1198.04" font-family="'Liberation Sans', Arial, sans-serif" font-size="12.61" font-weight="bold" fill="#000" stroke="#000" stroke-width="0.30" text-anchor="start" textLength="10.03" lengthAdjust="spacingAndGlyphs" >0</text>
<text x="1239.72" y="1216.60" font-family="'Liberation Sans', Arial, sans-serif" font-size="12.61" font-weight="bold" fill="#000" stroke="#000" stroke-width="0.30" text-anchor="start" textLength="9.53" lengthAdjust="spacingAndGlyphs" >0</text>
<text x="1401.71" y="1216.60" font-family="'Liberation Sans', Arial, sans-serif" font-size="12.61" font-weight="bold" fill="#000" stroke="#000" stroke-width="0.30" text-anchor="start" textLength="19.56" lengthAdjust="spacingAndGlyphs" >10</text>
<text x="1567.70" y="1216.60" font-family="'Liberation Sans', Arial, sans-serif" font-size="12.61" font-weight="bold" fill="#000" stroke="#000" stroke-width="0.30" text-anchor="start" textLength="20.06" lengthAdjust="spacingAndGlyphs" >20</text>
<text x="1734.20" y="1216.60" font-family="'Liberation Sans', Arial, sans-serif" font-size="12.61" font-weight="bold" fill="#000" stroke="#000" stroke-width="0.30" text-anchor="start" textLength="20.06" lengthAdjust="spacingAndGlyphs" >30</text>
<text x="1463.39" y="1237.91" font-family="'Liberation Sans', Arial, sans-serif" font-size="14.71" font-weight="bold" fill="#000" stroke="#000" stroke-width="0.35" text-anchor="start" textLength="61.18" lengthAdjust="spacingAndGlyphs" >Month</text>
<text x="1188.57" y="1148.40" font-family="'Liberation Serif', 'Times New Roman', serif" font-size="25.08" font-weight="normal" fill="#000" stroke="#000" stroke-width="0.60" textLength="204.61" lengthAdjust="spacingAndGlyphs" transform="rotate(-90 1188.57 1148.40)">progression free survival (%)</text>
<text x="1301.91" y="973.12" font-family="'Liberation Sans', Arial, sans-serif" font-size="16.11" font-weight="bold" fill="#000" stroke="#000" stroke-width="0.39" text-anchor="start" textLength="70.21" lengthAdjust="spacingAndGlyphs" >P=0.07</text>
<text x="1508.53" y="983.90" font-family="'Liberation Sans', Arial, sans-serif" font-size="14.01" font-weight="bold" fill="#fa2306" stroke="#fa2306" stroke-width="0.34" text-anchor="start" textLength="46.14" lengthAdjust="spacingAndGlyphs" >n=16</text>
<text x="1467.40" y="1002.21" font-family="'Liberation Sans', Arial, sans-serif" font-size="14.71" font-weight="bold" fill="#fa2306" stroke="#fa2306" stroke-width="0.35" text-anchor="start" textLength="129.39" lengthAdjust="spacingAndGlyphs" >Mean time:15</text>
<text x="1376.13" y="1124.32" font-family="'Liberation Sans', Arial, sans-serif" font-size="14.01" font-weight="bold" fill="#0a2ce6" stroke="#0a2ce6" stroke-width="0.34" text-anchor="start" textLength="46.14" lengthAdjust="spacingAndGlyphs" >n=24</text>
<text x="1335.01" y="1142.13" font-family="'Liberation Sans', Arial, sans-serif" font-size="14.71" font-weight="bold" fill="#0a2ce6" stroke="#0a2ce6" stroke-width="0.35" text-anchor="start" textLength="128.39" lengthAdjust="spacingAndGlyphs" >Mean time:13</text>
<path d="M1669.51 936.26 L1698.60 936.26" stroke="#9a3cf5" stroke-width="2.00" fill="none" />
<path d="M1684.05 930.24 L1684.05 936.26" stroke="#000" stroke-width="1.60" fill="none" />
<path d="M1673.52 991.93 L1703.11 991.93" stroke="#1f9a58" stroke-width="2.00" fill="none" />
<path d="M1688.57 985.91 L1688.57 991.93" stroke="#000" stroke-width="1.60" fill="none" />
<text x="1713.64" y="942.03" font-family="'Liberation Sans', Arial, sans-serif" font-size="14.71" font-weight="normal" fill="#111" stroke="#111" stroke-width="0.35" text-anchor="start" textLength="200.10" lengthAdjust="spacingAndGlyphs" >High number of Treg in</text>
<text x="1713.64" y="959.08" font-family="'Liberation Sans', Arial, sans-serif" font-size="14.71" font-weight="normal" fill="#111" stroke="#111" stroke-width="0.35" text-anchor="start" textLength="144.43" lengthAdjust="spacingAndGlyphs" >peripheral blood</text>
<text x="1717.65" y="997.69" font-family="'Liberation Sans', Arial, sans-serif" font-size="14.71" font-weight="normal" fill="#111" stroke="#111" stroke-width="0.35" text-anchor="start" textLength="196.09" lengthAdjust="spacingAndGlyphs" >Low number of Treg in</text>
<text x="1717.65" y="1014.74" font-family="'Liberation Sans', Arial, sans-serif" font-size="14.71" font-weight="normal" fill="#111" stroke="#111" stroke-width="0.35" text-anchor="start" textLength="144.43" lengthAdjust="spacingAndGlyphs" >peripheral blood</text>
<path d="M1244.23 1338.74 L1400.20 1338.74 L1400.20 1351.27 L1415.75 1351.27 L1415.75 1363.81 L1431.29 1363.81 L1431.29 1413.46 L1446.84 1413.46 L1446.84 1426.00 L1462.39 1426.00 L1462.39 1438.54 L1478.44 1438.54 L1478.44 1488.69 L1493.98 1488.69 L1493.98 1525.80 L1509.53 1525.80 L1509.53 1538.34 L1540.62 1538.34 L1540.62 1550.87 L1556.17 1550.87 L1556.17 1575.95 L1603.31 1575.95 L1603.31 1588.49 L1618.86 1588.49 L1618.86 1613.06" stroke="#fb3aa0" stroke-width="2.80" fill="none" />
<path d="M1244.23 1338.74 L1384.65 1338.74 L1384.65 1352.78 L1400.20 1352.78 L1400.20 1379.86 L1415.75 1379.86 L1415.75 1435.03 L1431.29 1435.03 L1431.29 1476.15 L1446.84 1476.15 L1446.84 1503.73 L1462.39 1503.73 L1462.39 1517.27 L1478.44 1517.27 L1478.44 1571.94 L1493.98 1571.94 L1493.98 1613.06" stroke="#1f9c9e" stroke-width="2.80" fill="none" />
<path d="M1244.23 1311.65 L1244.23 1613.06 L1712.64 1613.06" stroke="#000" stroke-width="2.60" fill="none" />
<path d="M1233.20 1338.74 L1244.23 1338.74" stroke="#000" stroke-width="2.20" fill="none" />
<path d="M1233.20 1476.15 L1244.23 1476.15" stroke="#000" stroke-width="2.20" fill="none" />
<path d="M1233.20 1613.06 L1244.23 1613.06" stroke="#000" stroke-width="2.20" fill="none" />
<path d="M1244.23 1613.06 L1244.23 1622.09" stroke="#000" stroke-width="2.20" fill="none" />
<path d="M1400.20 1613.06 L1400.20 1622.09" stroke="#000" stroke-width="2.20" fill="none" />
<path d="M1556.17 1613.06 L1556.17 1622.09" stroke="#000" stroke-width="2.20" fill="none" />
<path d="M1712.64 1613.06 L1712.64 1622.09" stroke="#000" stroke-width="2.20" fill="none" />
<text x="1201.10" y="1342.75" font-family="'Liberation Sans', Arial, sans-serif" font-size="11.21" font-weight="bold" fill="#000" stroke="#000" stroke-width="0.27" text-anchor="start" textLength="27.58" lengthAdjust="spacingAndGlyphs" >100</text>
<text x="1210.13" y="1480.16" font-family="'Liberation Sans', Arial, sans-serif" font-size="11.21" font-weight="bold" fill="#000" stroke="#000" stroke-width="0.27" text-anchor="start" textLength="18.56" lengthAdjust="spacingAndGlyphs" >50</text>
<text x="1219.66" y="1617.57" font-family="'Liberation Sans', Arial, sans-serif" font-size="11.21" font-weight="bold" fill="#000" stroke="#000" stroke-width="0.27" text-anchor="start" textLength="9.03" lengthAdjust="spacingAndGlyphs" >0</text>
<text x="1239.72" y="1634.62" font-family="'Liberation Sans', Arial, sans-serif" font-size="11.21" font-weight="bold" fill="#000" stroke="#000" stroke-width="0.27" text-anchor="start" textLength="8.53" lengthAdjust="spacingAndGlyphs" >0</text>
<text x="1391.68" y="1634.62" font-family="'Liberation Sans', Arial, sans-serif" font-size="11.21" font-weight="bold" fill="#000" stroke="#000" stroke-width="0.27" text-anchor="start" textLength="17.55" lengthAdjust="spacingAndGlyphs" >10</text>
<text x="1547.64" y="1634.62" font-family="'Liberation Sans', Arial, sans-serif" font-size="11.21" font-weight="bold" fill="#000" stroke="#000" stroke-width="0.27" text-anchor="start" textLength="17.55" lengthAdjust="spacingAndGlyphs" >20</text>
<text x="1704.11" y="1634.62" font-family="'Liberation Sans', Arial, sans-serif" font-size="11.21" font-weight="bold" fill="#000" stroke="#000" stroke-width="0.27" text-anchor="start" textLength="17.55" lengthAdjust="spacingAndGlyphs" >30</text>
<text x="1434.30" y="1658.19" font-family="'Liberation Sans', Arial, sans-serif" font-size="18.21" font-weight="bold" fill="#000" stroke="#000" stroke-width="0.44" text-anchor="start" textLength="87.76" lengthAdjust="spacingAndGlyphs" >Months</text>
<text x="1193.58" y="1555.89" font-family="'Liberation Serif', 'Times New Roman', serif" font-size="25.08" font-weight="normal" fill="#000" stroke="#000" stroke-width="0.60" textLength="188.06" lengthAdjust="spacingAndGlyphs" transform="rotate(-90 1193.58 1555.89)">progression free survival (%)</text>
<text x="1470.41" y="1357.79" font-family="'Liberation Sans', Arial, sans-serif" font-size="15.41" font-weight="bold" fill="#000" stroke="#000" stroke-width="0.37" text-anchor="start" textLength="75.23" lengthAdjust="spacingAndGlyphs" >P=0.039</text>
<text x="1518.05" y="1410.45" font-family="'Liberation Sans', Arial, sans-serif" font-size="12.61" font-weight="bold" fill="#fa2306" stroke="#fa2306" stroke-width="0.30" text-anchor="start" textLength="43.13" lengthAdjust="spacingAndGlyphs" >n=14</text>
<text x="1481.44" y="1426.25" font-family="'Liberation Sans', Arial, sans-serif" font-size="13.31" font-weight="bold" fill="#fa2306" stroke="#fa2306" stroke-width="0.32" text-anchor="start" textLength="117.35" lengthAdjust="spacingAndGlyphs" >Mean time:15</text>
<text x="1362.59" y="1561.91" font-family="'Liberation Sans', Arial, sans-serif" font-size="12.61" font-weight="bold" fill="#0a2ce6" stroke="#0a2ce6" stroke-width="0.30" text-anchor="start" textLength="42.63" lengthAdjust="spacingAndGlyphs" >n=26</text>
<text x="1317.95" y="1577.20" font-family="'Liberation Sans', Arial, sans-serif" font-size="13.31" font-weight="bold" fill="#0a2ce6" stroke="#0a2ce6" stroke-width="0.32" text-anchor="start" textLength="132.40" lengthAdjust="spacingAndGlyphs" >Mean time:12.5</text>
<path d="M1728.69 1322.19 L1755.77 1322.19" stroke="#fb3aa0" stroke-width="1.80" fill="none" />
<path d="M1728.69 1376.85 L1755.77 1376.85" stroke="#1f9c9e" stroke-width="1.80" fill="none" />
<text x="1768.81" y="1327.45" font-family="'Liberation Sans', Arial, sans-serif" font-size="13.31" font-weight="normal" fill="#111" stroke="#111" stroke-width="0.32" text-anchor="start" textLength="169.01" lengthAdjust="spacingAndGlyphs" >High number of Treg</text>
<text x="1768.81" y="1343.00" font-family="'Liberation Sans', Arial, sans-serif" font-size="13.31" font-weight="normal" fill="#111" stroke="#111" stroke-width="0.32" text-anchor="start" textLength="154.46" lengthAdjust="spacingAndGlyphs" >in tertiary lymphoid</text>
<text x="1768.81" y="1359.05" font-family="'Liberation Sans', Arial, sans-serif" font-size="13.31" font-weight="normal" fill="#111" stroke="#111" stroke-width="0.32" text-anchor="start" textLength="80.24" lengthAdjust="spacingAndGlyphs" >structures</text>
<text x="1768.81" y="1382.12" font-family="'Liberation Sans', Arial, sans-serif" font-size="13.31" font-weight="normal" fill="#111" stroke="#111" stroke-width="0.32" text-anchor="start" textLength="164.49" lengthAdjust="spacingAndGlyphs" >Low number of Treg</text>
<text x="1768.81" y="1397.66" font-family="'Liberation Sans', Arial, sans-serif" font-size="13.31" font-weight="normal" fill="#111" stroke="#111" stroke-width="0.32" text-anchor="start" textLength="154.46" lengthAdjust="spacingAndGlyphs" >in tertiary lymphoid</text>
<text x="1768.81" y="1413.71" font-family="'Liberation Sans', Arial, sans-serif" font-size="13.31" font-weight="normal" fill="#111" stroke="#111" stroke-width="0.32" text-anchor="start" textLength="80.24" lengthAdjust="spacingAndGlyphs" >structures</text>
<text x="804.10" y="44.56" font-family="'Liberation Serif', 'Times New Roman', serif" font-size="33.29" font-weight="bold" fill="#000" stroke="#000" stroke-width="0.80" text-anchor="start" textLength="20.22" lengthAdjust="spacingAndGlyphs" >B</text>
<clipPath id="cp1"><rect x="858.31" y="77.91" width="312.13" height="242.31"/></clipPath>
<rect x="858.31" y="77.91" width="312.13" height="242.31" fill="#e6e5e1" stroke="none" stroke-width="1.00" />
<clipPath id="cp2"><path d="M858.9 258.9 L878.9 228.0 L903.4 205.5 L920.2 188.5 L939.2 177.0 L958.0 183.7 L967.5 166.5 L962.7 154.5 L979.0 139.6 L999.5 129.7 L1019.5 109.2 L1046.8 99.7 L1078.1 86.8 L1081.8 77.9 L1170.4 77.9 L1170.4 136.5 L1141.4 162.0 L1113.1 188.3 L1082.8 213.0 L1065.8 224.7 L1028.0 243.3 L994.4 267.8 L975.2 285.2 L954.2 298.5 L936.6 320.2 L858.9 320.2 Z"/></clipPath>
<g clip-path="url(#cp1)">
<path d="M858.9 258.9 L878.9 228.0 L903.4 205.5 L920.2 188.5 L939.2 177.0 L958.0 183.7 L967.5 166.5 L962.7 154.5 L979.0 139.6 L999.5 129.7 L1019.5 109.2 L1046.8 99.7 L1078.1 86.8 L1081.8 77.9 L1170.4 77.9 L1170.4 136.5 L1141.4 162.0 L1113.1 188.3 L1082.8 213.0 L1065.8 224.7 L1028.0 243.3 L994.4 267.8 L975.2 285.2 L954.2 298.5 L936.6 320.2 L858.9 320.2 Z" fill="url(#tisB1)"/>
<g clip-path="url(#cp2)"><path d="M899.5 208.5 L915.3 192.6 L935.1 196.6 L943.0 228.2 L960.8 267.8 L968.7 293.5 L944.9 305.4 L929.1 267.8 L909.3 232.2 Z" fill="#eaa8d8" opacity="0.75" filter="url(#bl4)"/>
<path d="M933.1 320.2 L952.9 301.4 L976.6 287.6 L1000.3 267.8 L992.4 259.9 L968.7 275.7 L944.9 291.5 L925.2 307.4 Z" fill="#e8b0dc" opacity="0.6" filter="url(#bl4)"/>
</g>
<g filter="url(#hPk)" clip-path="url(#cp2)" opacity="0.8"><rect x="858.31" y="77.91" width="312.13" height="242.31" fill="#000" fill-opacity="0"/><path d="M858.9 258.9 L878.9 228.0 L903.4 205.5 L920.2 188.5 L939.2 177.0 L958.0 183.7 L967.5 166.5 L962.7 154.5 L979.0 139.6 L999.5 129.7 L1019.5 109.2 L1046.8 99.7 L1078.1 86.8 L1081.8 77.9 L1170.4 77.9 L1170.4 136.5 L1141.4 162.0 L1113.1 188.3 L1082.8 213.0 L1065.8 224.7 L1028.0 243.3 L994.4 267.8 L975.2 285.2 L954.2 298.5 L936.6 320.2 L858.9 320.2 Z" fill="#000" fill-opacity="0.7656"/></g>
<g filter="url(#hDk)" clip-path="url(#cp2)" opacity="0.4"><rect x="858.31" y="77.91" width="312.13" height="242.31" fill="#000" fill-opacity="0"/><path d="M858.9 258.9 L878.9 228.0 L903.4 205.5 L920.2 188.5 L939.2 177.0 L958.0 183.7 L967.5 166.5 L962.7 154.5 L979.0 139.6 L999.5 129.7 L1019.5 109.2 L1046.8 99.7 L1078.1 86.8 L1081.8 77.9 L1170.4 77.9 L1170.4 136.5 L1141.4 162.0 L1113.1 188.3 L1082.8 213.0 L1065.8 224.7 L1028.0 243.3 L994.4 267.8 L975.2 285.2 L954.2 298.5 L936.6 320.2 L858.9 320.2 Z" fill="#000" fill-opacity="0.84"/></g>
<g filter="url(#hN)" clip-path="url(#cp2)" opacity="0.92"><rect x="858.31" y="77.91" width="312.13" height="242.31" fill="#000" fill-opacity="0"/><path d="M858.9 258.9 L878.9 228.0 L903.4 205.5 L920.2 188.5 L939.2 177.0 L958.0 183.7 L967.5 166.5 L962.7 154.5 L979.0 139.6 L999.5 129.7 L1019.5 109.2 L1046.8 99.7 L1078.1 86.8 L1081.8 77.9 L1170.4 77.9 L1170.4 136.5 L1141.4 162.0 L1113.1 188.3 L1082.8 213.0 L1065.8 224.7 L1028.0 243.3 L994.4 267.8 L975.2 285.2 L954.2 298.5 L936.6 320.2 L858.9 320.2 Z" fill="#000" fill-opacity="0.6824"/><path d="M968.7 164.9 L1000.3 127.4 L1047.8 95.7 L1084.4 77.9 L1170.4 77.9 L1170.4 135.3 L1117.0 188.7 L1067.6 226.3 L1028.0 244.1 L1000.3 248.0 L976.6 208.5 Z" fill="#000" fill-opacity="0.61377" filter="url(#bl8)"/><ellipse cx="879.7" cy="277.7" rx="30.0" ry="40.0" fill="#000" fill-opacity="0.439547" filter="url(#bl8)"/><ellipse cx="972.6" cy="180.8" rx="12.0" ry="14.0" fill="#000" fill-opacity="0.949622" filter="url(#bl2)"/></g>
<ellipse cx="971.1" cy="250.4" rx="17.0" ry="18.0" fill="#d9a6d8" opacity="0.8" filter="url(#bl1)"/>
<ellipse cx="971.1" cy="250.4" rx="14.5" ry="15.5" fill="#9c84d0" opacity="0.9"/>
<path d="M963.1 255.4 l6 -5 l5 1 l6 -5" stroke="#efe6f4" stroke-width="1.2" fill="none" opacity="0.9"/>
<g filter="url(#hN2)" clip-path="url(#cp1)" opacity="0.4"><rect x="858.31" y="77.91" width="312.13" height="242.31" fill="#000" fill-opacity="0"/><rect x="858.31" y="77.91" width="312.13" height="242.31" fill="#000" fill-opacity="0.4299"/></g>
</g>
<rect x="858.31" y="77.91" width="312.13" height="242.31" fill="none" stroke="#000" stroke-width="2.80" />
<rect x="935.45" y="218.35" width="57.36" height="64.88" fill="none" stroke="#c00000" stroke-width="2.20" />
<path d="M992.81 218.35 L1017.14 227.65" stroke="#c00000" stroke-width="2.10" fill="none" />
<path d="M992.81 283.23 L1017.14 388.85" stroke="#c00000" stroke-width="2.10" fill="none" />
<clipPath id="cp3"><rect x="1017.14" y="227.65" width="180.99" height="161.21"/></clipPath>
<g clip-path="url(#cp3)">
<rect x="1017.14" y="227.65" width="180.99" height="161.21" fill="#e4a6d8" stroke="none" stroke-width="1.00" />
<g filter="url(#hLt)" opacity="0.85"><rect x="1017.14" y="227.65" width="180.99" height="161.21" fill="#000" fill-opacity="0"/><rect x="1017.14" y="227.65" width="180.99" height="161.21" fill="#000" fill-opacity="0.6164"/></g>
<path d="M1047.8 267.8 L1077.5 248.0 L1107.1 257.9 L1099.2 287.6 L1089.3 313.3 L1067.6 333.1 L1047.8 317.3 L1039.9 287.6 Z" fill="#a48cd0" opacity="0.6" filter="url(#bl4)"/>
<path d="M1162.5 228.2 L1198.1 228.2 L1198.1 277.7 L1182.3 275.7 L1166.5 257.9 Z" fill="#9c84d0" opacity="0.85" filter="url(#bl2)"/>
<path d="M1113.1 254.0 L1130.9 248.0 L1152.6 254.0 L1150.7 267.8 L1126.9 269.8 Z" fill="#a890d4" opacity="0.7" filter="url(#bl2)"/>
<g filter="url(#hN2)" opacity="0.9"><rect x="1017.14" y="227.65" width="180.99" height="161.21" fill="#000" fill-opacity="0"/><rect x="1017.14" y="227.65" width="180.99" height="161.21" fill="#000" fill-opacity="0.6336"/><path d="M1047.8 267.8 L1077.5 248.0 L1107.1 257.9 L1099.2 287.6 L1089.3 313.3 L1067.6 333.1 L1047.8 317.3 L1039.9 287.6 Z" fill="#000" fill-opacity="0.634643" filter="url(#bl4)"/><path d="M1162.5 228.2 L1198.1 228.2 L1198.1 277.7 L1182.3 275.7 L1166.5 257.9 Z" fill="#000" fill-opacity="0.563319" filter="url(#bl2)"/><path d="M1113.1 254.0 L1130.9 248.0 L1152.6 254.0 L1150.7 267.8 L1126.9 269.8 Z" fill="#000" fill-opacity="0.514192" filter="url(#bl2)"/></g>
<path d="M1073.5 283.6 L1087.4 282.6 L1090.3 299.4 L1083.4 307.4 L1075.5 297.5 Z" fill="#3f2c98" opacity="0.75" filter="url(#bl2)"/>
<ellipse cx="1133.3" cy="323.2" rx="44.0" ry="44.0" fill="#eaa8da" filter="url(#bl1)"/>
<ellipse cx="1133.3" cy="323.2" rx="39.5" ry="40.0" fill="#a088d4" />
<g filter="url(#hN2)" opacity="0.75"><rect x="1093.25" y="283.18" width="80.00" height="80.00" fill="#000" fill-opacity="0"/><ellipse cx="1133.3" cy="323.2" rx="39" ry="39.5" fill="#000" fill-opacity="0.84"/></g>
<path d="M1099.2 341.0 L1113.1 327.1 L1126.9 325.2 L1140.8 315.3 L1152.6 313.3 L1144.7 323.2 L1130.9 331.1 L1117.0 335.1 L1107.1 346.9 Z" fill="#f4eef6" opacity="0.9" filter="url(#bl1)"/>
</g>
<path d="M-16.5 -7.0 L1.7 -7.0 L1.7 -12.5 L16.5 0.0 L1.7 12.5 L1.7 7.0 L-16.5 7.0 Z" fill="#c2222a" fill-opacity="0.88" transform="translate(1056.1 339.6) rotate(-59)"/>
<text x="1023.67" y="365.32" font-family="'Liberation Serif', 'Times New Roman', serif" font-size="8.96" font-weight="bold" fill="#111" stroke="#111" stroke-width="0.22" text-anchor="start" textLength="22.15" lengthAdjust="spacingAndGlyphs" >TLS+</text>
<text x="1143.14" y="367.89" font-family="'Liberation Serif', 'Times New Roman', serif" font-size="5.38" font-weight="bold" fill="#222" stroke="#222" stroke-width="0.13" text-anchor="start" textLength="17.41" lengthAdjust="spacingAndGlyphs" >100μm</text>
<path d="M1145.12 381.54 L1188.63 381.54" stroke="#000" stroke-width="2.60" fill="none" />
<rect x="1017.14" y="227.65" width="180.99" height="161.21" fill="none" stroke="#c00000" stroke-width="2.30" />
<clipPath id="cp4"><rect x="1207.23" y="166.86" width="208.03" height="222.95"/></clipPath>
<g clip-path="url(#cp4)">
<rect x="1207.23" y="166.86" width="208.03" height="222.95" fill="#020204" stroke="none" stroke-width="1.00" />
<ellipse cx="1337.0" cy="279.2" rx="61.0" ry="61.0" fill="url(#glomB)" opacity="0.6"/>
<ellipse cx="1389.2" cy="189.3" rx="30.0" ry="26.0" fill="#0a0a50" opacity="0.8" filter="url(#bl4)"/>
<path d="M1320.9 284.6 L1331.6 273.8 L1347.8 266.6 L1351.4 272.0 L1335.2 282.8 L1326.3 302.6 L1320.9 318.8 L1313.7 317.0 Z" fill="#020210" opacity="0.8" filter="url(#bl2)"/>
<g filter="url(#fB3)" opacity="0.7"><rect x="1207.23" y="166.86" width="208.03" height="222.95" fill="#000" fill-opacity="0"/><rect x="1207.23" y="166.86" width="208.03" height="222.95" fill="#000" fill-opacity="0.5352"/><ellipse cx="1337.0" cy="279.2" rx="58.0" ry="58.0" fill="#000" fill-opacity="0.44062" filter="url(#bl2)"/></g>
<g filter="url(#fG)" opacity="1"><rect x="1207.23" y="166.86" width="208.03" height="222.95" fill="#000" fill-opacity="0"/><path d="M1207.2 166.9 H1415.3 V389.8 H1207.2 Z M1337.0 279.2 m-64 0 a64 64 0 1 0 128 0 a64 64 0 1 0 -128 0 Z" fill="#000" fill-rule="evenodd" fill-opacity="0.5118"/><ellipse cx="1248.9" cy="255.9" rx="45.0" ry="80.0" fill="#000" fill-opacity="0.179025" filter="url(#bl12)"/></g>
<g filter="url(#fO)" opacity="1"><rect x="1207.23" y="166.86" width="208.03" height="222.95" fill="#000" fill-opacity="0"/><path d="M1207.2 166.9 H1415.3 V389.8 H1207.2 Z M1337.0 279.2 m-64 0 a64 64 0 1 0 128 0 a64 64 0 1 0 -128 0 Z" fill="#000" fill-rule="evenodd" fill-opacity="0.47475"/><ellipse cx="1248.9" cy="255.9" rx="40.0" ry="70.0" fill="#000" fill-opacity="0.144788" filter="url(#bl12)"/><ellipse cx="1257.9" cy="237.9" rx="26.0" ry="24.0" fill="#000" fill-opacity="0.5" filter="url(#bl8)"/></g>
<ellipse cx="1257.9" cy="237.9" rx="16.0" ry="13.0" fill="#ffc848" opacity="0.7" filter="url(#bl4)"/>
<ellipse cx="1259.9" cy="236.9" rx="8.0" ry="6.0" fill="#fff4c8" opacity="0.85" filter="url(#bl2)"/>
<path d="M1356.8 389.8 L1371.2 370.9 L1415.3 356.5 L1415.3 389.8 Z" fill="#000" filter="url(#bl8)"/>
<path d="M-27.5 -12.9 L2.8 -12.9 L2.8 -23.0 L27.5 0.0 L2.8 23.0 L2.8 12.9 L-27.5 12.9 Z" fill="#a8161a" fill-opacity="0.88" transform="translate(1235.6 299.4) rotate(-64)"/>
</g>
<rect x="1207.23" y="166.86" width="208.03" height="222.95" fill="none" stroke="#d81a1a" stroke-width="1.60" />
<text x="1210.82" y="158.59" font-family="'Liberation Serif', 'Times New Roman', serif" font-size="29.33" font-weight="bold" fill="#83c34a" stroke="#83c34a" stroke-width="0.70" text-anchor="start" textLength="53.40" lengthAdjust="spacingAndGlyphs" >CD3</text>
<text x="1305.04" y="158.59" font-family="'Liberation Serif', 'Times New Roman', serif" font-size="29.33" font-weight="bold" fill="#ffc010" stroke="#ffc010" stroke-width="0.70" text-anchor="start" textLength="107.88" lengthAdjust="spacingAndGlyphs" >CXCL13</text>
<text x="1216.94" y="417.50" font-family="'Liberation Serif', 'Times New Roman', serif" font-size="29.33" font-weight="bold" fill="#f01414" stroke="#f01414" stroke-width="0.70" text-anchor="start" textLength="67.61" lengthAdjust="spacingAndGlyphs" >CD20</text>
<text x="1330.75" y="417.50" font-family="'Liberation Serif', 'Times New Roman', serif" font-size="29.33" font-weight="bold" fill="#ff8c28" stroke="#ff8c28" stroke-width="0.70" text-anchor="start" textLength="83.25" lengthAdjust="spacingAndGlyphs" >CD103</text>
<clipPath id="cp5"><rect x="861.33" y="460.93" width="295.36" height="250.85"/></clipPath>
<rect x="861.33" y="460.93" width="295.36" height="250.85" fill="#e5e5e1" stroke="none" stroke-width="1.00" />
<clipPath id="cp6"><path d="M874.8 629.1 L893.8 611.9 L908.0 595.7 L922.3 577.3 L938.7 562.0 L956.9 548.8 L970.1 536.5 L987.5 524.2 L999.6 516.1 L1010.1 510.0 L1029.1 500.9 L1052.8 492.6 L1082.5 497.5 L1112.2 488.6 L1141.9 482.7 L1156.7 480.7 L1156.7 637.0 L1132.0 641.0 L1102.3 647.9 L1072.6 650.9 L1048.9 642.9 L1033.0 652.8 L993.5 672.6 L874.8 672.6 Z"/></clipPath>
<g clip-path="url(#cp5)">
<path d="M874.8 629.1 L893.8 611.9 L908.0 595.7 L922.3 577.3 L938.7 562.0 L956.9 548.8 L970.1 536.5 L987.5 524.2 L999.6 516.1 L1010.1 510.0 L1029.1 500.9 L1052.8 492.6 L1082.5 497.5 L1112.2 488.6 L1141.9 482.7 L1156.7 480.7 L1156.7 637.0 L1132.0 641.0 L1102.3 647.9 L1072.6 650.9 L1048.9 642.9 L1033.0 652.8 L993.5 672.6 L874.8 672.6 Z" fill="#e2c8e8"/>
<g clip-path="url(#cp6)">
<ellipse cx="1017.2" cy="601.4" rx="33.7" ry="23.8" fill="#a48ed0" opacity="0.48" filter="url(#bl4)"/>
<ellipse cx="1092.4" cy="548.0" rx="17.8" ry="15.8" fill="#a48ed0" opacity="0.54" filter="url(#bl4)"/>
<ellipse cx="1096.4" cy="599.4" rx="19.8" ry="17.8" fill="#a48ed0" opacity="0.504" filter="url(#bl4)"/>
<ellipse cx="1147.8" cy="534.1" rx="11.9" ry="39.6" fill="#a48ed0" opacity="0.48" filter="url(#bl4)"/>
<ellipse cx="973.7" cy="593.5" rx="23.8" ry="17.8" fill="#a48ed0" opacity="0.336" filter="url(#bl4)"/>
<ellipse cx="1052.8" cy="623.2" rx="29.7" ry="15.8" fill="#a48ed0" opacity="0.36" filter="url(#bl4)"/>
<ellipse cx="1033.0" cy="520.3" rx="31.7" ry="11.9" fill="#a48ed0" opacity="0.264" filter="url(#bl4)"/>
</g>
<g filter="url(#hPk)" clip-path="url(#cp6)" opacity="0.5"><rect x="861.33" y="460.93" width="295.36" height="250.85" fill="#000" fill-opacity="0"/><path d="M874.8 629.1 L893.8 611.9 L908.0 595.7 L922.3 577.3 L938.7 562.0 L956.9 548.8 L970.1 536.5 L987.5 524.2 L999.6 516.1 L1010.1 510.0 L1029.1 500.9 L1052.8 492.6 L1082.5 497.5 L1112.2 488.6 L1141.9 482.7 L1156.7 480.7 L1156.7 637.0 L1132.0 641.0 L1102.3 647.9 L1072.6 650.9 L1048.9 642.9 L1033.0 652.8 L993.5 672.6 L874.8 672.6 Z" fill="#000" fill-opacity="0.74"/></g>
<g filter="url(#hN)" clip-path="url(#cp6)" opacity="0.75"><rect x="861.33" y="460.93" width="295.36" height="250.85" fill="#000" fill-opacity="0"/><path d="M874.8 629.1 L893.8 611.9 L908.0 595.7 L922.3 577.3 L938.7 562.0 L956.9 548.8 L970.1 536.5 L987.5 524.2 L999.6 516.1 L1010.1 510.0 L1029.1 500.9 L1052.8 492.6 L1082.5 497.5 L1112.2 488.6 L1141.9 482.7 L1156.7 480.7 L1156.7 637.0 L1132.0 641.0 L1102.3 647.9 L1072.6 650.9 L1048.9 642.9 L1033.0 652.8 L993.5 672.6 L874.8 672.6 Z" fill="#000" fill-opacity="0.6336"/><ellipse cx="1017.2" cy="601.4" rx="33.7" ry="23.8" fill="#000" fill-opacity="0.614265" filter="url(#bl4)"/><ellipse cx="1092.4" cy="548.0" rx="17.8" ry="15.8" fill="#000" fill-opacity="0.665211" filter="url(#bl4)"/><ellipse cx="1096.4" cy="599.4" rx="19.8" ry="17.8" fill="#000" fill-opacity="0.634643" filter="url(#bl4)"/><ellipse cx="1147.8" cy="534.1" rx="11.9" ry="39.6" fill="#000" fill-opacity="0.614265" filter="url(#bl4)"/><ellipse cx="973.7" cy="593.5" rx="23.8" ry="17.8" fill="#000" fill-opacity="0.494541" filter="url(#bl4)"/><ellipse cx="1052.8" cy="623.2" rx="29.7" ry="15.8" fill="#000" fill-opacity="0.514192" filter="url(#bl4)"/><ellipse cx="1033.0" cy="520.3" rx="31.7" ry="11.9" fill="#000" fill-opacity="0.360262" filter="url(#bl4)"/></g>
</g>
<rect x="861.33" y="460.93" width="295.36" height="250.85" fill="none" stroke="#000" stroke-width="2.80" />
<rect x="1069.65" y="568.75" width="67.26" height="65.28" fill="none" stroke="#c00000" stroke-width="2.20" />
<path d="M1069.65 568.75 L1038.98 616.23" stroke="#c00000" stroke-width="2.10" fill="none" />
<path d="M1069.65 634.04 L1040.57 781.03" stroke="#c00000" stroke-width="2.10" fill="none" />
<clipPath id="cp7"><rect x="867.27" y="616.23" width="171.72" height="163.21"/></clipPath>
<g clip-path="url(#cp7)">
<rect x="867.27" y="616.23" width="171.72" height="163.21" fill="#e2b2e0" stroke="none" stroke-width="1.00" />
<g filter="url(#hLt)" opacity="0.6"><rect x="867.27" y="616.23" width="171.72" height="163.21" fill="#000" fill-opacity="0"/><rect x="867.27" y="616.23" width="171.72" height="163.21" fill="#000" fill-opacity="0.5508"/></g>
<ellipse cx="940.1" cy="682.5" rx="45.8" ry="33.9" fill="#6a50b4" opacity="0.7" filter="url(#bl1)"/>
<ellipse cx="940.1" cy="682.5" rx="44.0" ry="32.1" fill="#b09edc" />
<ellipse cx="914.3" cy="732.0" rx="24.0" ry="19.0" fill="#6a50b4" opacity="0.7" filter="url(#bl1)"/>
<ellipse cx="914.3" cy="732.0" rx="22.2" ry="17.2" fill="#b09edc" />
<ellipse cx="959.9" cy="739.9" rx="24.0" ry="17.0" fill="#6a50b4" opacity="0.7" filter="url(#bl1)"/>
<ellipse cx="959.9" cy="739.9" rx="22.2" ry="15.2" fill="#b09edc" />
<ellipse cx="1007.3" cy="686.5" rx="15.5" ry="18.0" fill="#6a50b4" opacity="0.7" filter="url(#bl1)"/>
<ellipse cx="1007.3" cy="686.5" rx="13.7" ry="16.2" fill="#b09edc" />
<ellipse cx="950.0" cy="638.0" rx="19.0" ry="11.1" fill="#6a50b4" opacity="0.7" filter="url(#bl1)"/>
<ellipse cx="950.0" cy="638.0" rx="17.2" ry="9.3" fill="#b09edc" />
<ellipse cx="1023.2" cy="629.1" rx="17.0" ry="15.1" fill="#6a50b4" opacity="0.7" filter="url(#bl1)"/>
<ellipse cx="1023.2" cy="629.1" rx="15.2" ry="13.3" fill="#b09edc" />
<ellipse cx="874.8" cy="621.2" rx="17.0" ry="11.1" fill="#6a50b4" opacity="0.7" filter="url(#bl1)"/>
<ellipse cx="874.8" cy="621.2" rx="15.2" ry="9.3" fill="#b09edc" />
<g filter="url(#hN2)" opacity="0.8"><rect x="867.27" y="616.23" width="171.72" height="163.21" fill="#000" fill-opacity="0"/><rect x="867.27" y="616.23" width="171.72" height="163.21" fill="#000" fill-opacity="0.582"/><ellipse cx="940.1" cy="682.5" rx="44.6" ry="32.7" fill="#000" fill-opacity="0.500478"/><ellipse cx="914.3" cy="732.0" rx="22.8" ry="17.8" fill="#000" fill-opacity="0.500478"/><ellipse cx="959.9" cy="739.9" rx="22.8" ry="15.8" fill="#000" fill-opacity="0.500478"/><ellipse cx="1007.3" cy="686.5" rx="14.3" ry="16.8" fill="#000" fill-opacity="0.500478"/><ellipse cx="950.0" cy="638.0" rx="17.8" ry="9.9" fill="#000" fill-opacity="0.500478"/><ellipse cx="1023.2" cy="629.1" rx="15.8" ry="13.9" fill="#000" fill-opacity="0.500478"/><ellipse cx="874.8" cy="621.2" rx="15.8" ry="9.9" fill="#000" fill-opacity="0.500478"/></g>
</g>
<text x="983.59" y="760.25" font-family="'Liberation Serif', 'Times New Roman', serif" font-size="9.56" font-weight="bold" fill="#111" stroke="#111" stroke-width="0.23" text-anchor="start" textLength="19.39" lengthAdjust="spacingAndGlyphs" >TLS-</text>
<text x="879.73" y="756.79" font-family="'Liberation Serif', 'Times New Roman', serif" font-size="5.08" font-weight="bold" fill="#222" stroke="#222" stroke-width="0.12" text-anchor="start" textLength="17.80" lengthAdjust="spacingAndGlyphs" >100μm</text>
<path d="M877.75 771.53 L927.80 771.53" stroke="#000" stroke-width="2.80" fill="none" />
<rect x="867.27" y="616.23" width="171.72" height="163.21" fill="none" stroke="#c00000" stroke-width="2.30" />
<text x="23.62" y="886.09" font-family="'Liberation Serif', 'Times New Roman', serif" font-size="32.56" font-weight="bold" fill="#000" stroke="#000" stroke-width="0.78" text-anchor="start" textLength="23.38" lengthAdjust="spacingAndGlyphs" >G</text>
<clipPath id="cp8"><rect x="108.00" y="865.80" width="696.40" height="381.00"/></clipPath>
<rect x="108.00" y="865.80" width="696.40" height="381.00" fill="#000" stroke="none" stroke-width="1.00" />
<clipPath id="cp9"><path d="M295.2 1247.1 L323.3 1216.6 L370.2 1163.6 L419.4 1134.6 L447.5 1125.2 L483.6 1088.7 L511.7 1046.5 L558.6 1004.3 L606.8 976.2 L679.5 961.2 L738.1 949.5 L707.6 987.0 L659.8 1030.6 L612.0 1063.4 L565.1 1086.8 L518.3 1115.8 L485.5 1143.0 L447.5 1158.0 L401.1 1181.5 L369.3 1208.6 L345.8 1232.1 L335.1 1247.1 Z"/></clipPath>
<g clip-path="url(#cp8)">
<path d="M295.2 1247.1 L323.3 1216.6 L370.2 1163.6 L419.4 1134.6 L447.5 1125.2 L483.6 1088.7 L511.7 1046.5 L558.6 1004.3 L606.8 976.2 L679.5 961.2 L738.1 949.5 L707.6 987.0 L659.8 1030.6 L612.0 1063.4 L565.1 1086.8 L518.3 1115.8 L485.5 1143.0 L447.5 1158.0 L401.1 1181.5 L369.3 1208.6 L345.8 1232.1 L335.1 1247.1 Z" fill="#05052e" opacity="0.6" filter="url(#bl8)"/>
<g filter="url(#fB2)" opacity="0.8"><rect x="108.00" y="865.80" width="696.40" height="381.00" fill="#000" fill-opacity="0"/><path d="M295.2 1247.1 L323.3 1216.6 L370.2 1163.6 L419.4 1134.6 L447.5 1125.2 L483.6 1088.7 L511.7 1046.5 L558.6 1004.3 L606.8 976.2 L679.5 961.2 L738.1 949.5 L707.6 987.0 L659.8 1030.6 L612.0 1063.4 L565.1 1086.8 L518.3 1115.8 L485.5 1143.0 L447.5 1158.0 L401.1 1181.5 L369.3 1208.6 L345.8 1232.1 L335.1 1247.1 Z" fill="#000" fill-opacity="0.8112" filter="url(#bl2)"/></g>
<g filter="url(#fM)" opacity="0.7"><rect x="108.00" y="865.80" width="696.40" height="381.00" fill="#000" fill-opacity="0"/><path d="M295.2 1247.1 L323.3 1216.6 L370.2 1163.6 L419.4 1134.6 L447.5 1125.2 L483.6 1088.7 L511.7 1046.5 L558.6 1004.3 L606.8 976.2 L679.5 961.2 L738.1 949.5 L707.6 987.0 L659.8 1030.6 L612.0 1063.4 L565.1 1086.8 L518.3 1115.8 L485.5 1143.0 L447.5 1158.0 L401.1 1181.5 L369.3 1208.6 L345.8 1232.1 L335.1 1247.1 Z" fill="#000" fill-opacity="0.5352" filter="url(#bl2)"/></g>
<g filter="url(#fW)" clip-path="url(#cp9)" opacity="0.8"><rect x="108.00" y="865.80" width="696.40" height="381.00" fill="#000" fill-opacity="0"/><path d="M356.1 1214.3 L403.0 1158.0 L468.6 1111.2 L496.7 1120.5 L421.7 1176.8 L374.9 1218.9 Z" fill="#000" fill-opacity="0.504" filter="url(#bl2)"/></g>
</g>
<clipPath id="cp10"><rect x="115.20" y="868.20" width="138.00" height="88.90"/></clipPath>
<g clip-path="url(#cp10)">
<rect x="115.20" y="868.20" width="138.00" height="88.90" fill="#000" stroke="none" stroke-width="1.00" />
<g filter="url(#fB)" opacity="1"><rect x="115.20" y="868.20" width="138.00" height="88.90" fill="#000" fill-opacity="0"/><rect x="115.20" y="868.20" width="138.00" height="88.90" fill="#000" fill-opacity="0.74"/><ellipse cx="179.2" cy="920.7" rx="62.0" ry="26.0" fill="#000" fill-opacity="0.6" filter="url(#bl8)"/></g>
</g>
<rect x="115.20" y="868.20" width="138.00" height="88.90" fill="none" stroke="#fff" stroke-width="2.00" />
<clipPath id="cp11"><rect x="112.20" y="964.10" width="139.80" height="88.80"/></clipPath>
<g clip-path="url(#cp11)">
<rect x="112.20" y="964.10" width="139.80" height="88.80" fill="#000" stroke="none" stroke-width="1.00" />
<g filter="url(#fR)" opacity="1"><rect x="112.20" y="964.10" width="139.80" height="88.80" fill="#000" fill-opacity="0"/><rect x="112.20" y="964.10" width="139.80" height="88.80" fill="#000" fill-opacity="0.5196"/><ellipse cx="164.1" cy="1018.5" rx="58.0" ry="28.0" fill="#000" fill-opacity="0.721343" filter="url(#bl8)"/></g>
</g>
<rect x="112.20" y="964.10" width="139.80" height="88.80" fill="none" stroke="#fff" stroke-width="2.00" />
<clipPath id="cp12"><rect x="110.50" y="1058.30" width="141.50" height="88.20"/></clipPath>
<g clip-path="url(#cp12)">
<rect x="110.50" y="1058.30" width="141.50" height="88.20" fill="#000" stroke="none" stroke-width="1.00" />
<g filter="url(#fC)" opacity="1"><rect x="110.50" y="1058.30" width="141.50" height="88.20" fill="#000" fill-opacity="0"/><rect x="110.50" y="1058.30" width="141.50" height="88.20" fill="#000" fill-opacity="0.465"/><ellipse cx="158.5" cy="1098.4" rx="44.0" ry="20.0" fill="#000" fill-opacity="0.805607" filter="url(#bl8)"/><ellipse cx="191.2" cy="1117.4" rx="50.0" ry="18.0" fill="#000" fill-opacity="0.282991" filter="url(#bl8)"/></g>
</g>
<rect x="110.50" y="1058.30" width="141.50" height="88.20" fill="none" stroke="#fff" stroke-width="2.00" />
<clipPath id="cp13"><rect x="111.70" y="1152.30" width="139.80" height="89.40"/></clipPath>
<g clip-path="url(#cp13)">
<rect x="111.70" y="1152.30" width="139.80" height="89.40" fill="#000" stroke="none" stroke-width="1.00" />
<g filter="url(#fY)" opacity="1"><rect x="111.70" y="1152.30" width="139.80" height="89.40" fill="#000" fill-opacity="0"/><rect x="111.70" y="1152.30" width="139.80" height="89.40" fill="#000" fill-opacity="0.3882"/></g>
</g>
<rect x="111.70" y="1152.30" width="139.80" height="89.40" fill="none" stroke="#fff" stroke-width="2.00" />
<text x="123.39" y="888.06" font-family="'Liberation Serif', 'Times New Roman', serif" font-size="24.73" font-weight="bold" fill="#0a70c6" stroke="#0a70c6" stroke-width="0.59" text-anchor="start" textLength="70.16" lengthAdjust="spacingAndGlyphs" >DAPI</text>
<text x="119.88" y="983.95" font-family="'Liberation Serif', 'Times New Roman', serif" font-size="24.02" font-weight="bold" fill="#c20c0c" stroke="#c20c0c" stroke-width="0.58" text-anchor="start" textLength="54.96" lengthAdjust="spacingAndGlyphs" >CD3</text>
<text x="117.54" y="1077.49" font-family="'Liberation Serif', 'Times New Roman', serif" font-size="24.02" font-weight="bold" fill="#24b8d2" stroke="#24b8d2" stroke-width="0.58" text-anchor="start" textLength="57.30" lengthAdjust="spacingAndGlyphs" >CD4</text>
<text x="119.18" y="1174.55" font-family="'Liberation Serif', 'Times New Roman', serif" font-size="24.73" font-weight="bold" fill="#ffc20e" stroke="#ffc20e" stroke-width="0.59" text-anchor="start" textLength="76.71" lengthAdjust="spacingAndGlyphs" >FoxP3</text>
<path d="M123.4 953.5 H160.3 M123.4 951.0 v5 M160.3 951.0 v5" stroke="#ddd" stroke-width="0.8" fill="none"/>
<text x="165.01" y="955.85" font-family="'Liberation Sans', Arial, sans-serif" font-size="6.42" font-weight="bold" fill="#fff" textLength="26.19" lengthAdjust="spacingAndGlyphs">100μm</text>
<path d="M118.7 1047.1 H156.6 M118.7 1044.6 v5 M156.6 1044.6 v5" stroke="#ddd" stroke-width="0.8" fill="none"/>
<text x="161.27" y="1049.39" font-family="'Liberation Sans', Arial, sans-serif" font-size="6.42" font-weight="bold" fill="#fff" textLength="27.60" lengthAdjust="spacingAndGlyphs">100μm</text>
<path d="M118.2 1139.7 H156.1 M118.2 1137.2 v5 M156.1 1137.2 v5" stroke="#ddd" stroke-width="0.8" fill="none"/>
<text x="161.27" y="1142.00" font-family="'Liberation Sans', Arial, sans-serif" font-size="6.42" font-weight="bold" fill="#fff" textLength="27.60" lengthAdjust="spacingAndGlyphs">100μm</text>
<path d="M118.7 1234.2 H155.0 M118.7 1231.7 v5 M155.0 1231.7 v5" stroke="#ddd" stroke-width="0.8" fill="none"/>
<text x="158.47" y="1236.48" font-family="'Liberation Sans', Arial, sans-serif" font-size="6.42" font-weight="bold" fill="#fff" textLength="26.89" lengthAdjust="spacingAndGlyphs">100μm</text>
<clipPath id="cp14"><rect x="317.49" y="868.19" width="231.06" height="141.49"/></clipPath>
<g clip-path="url(#cp14)">
<rect x="317.49" y="868.19" width="231.06" height="141.49" fill="#000" stroke="none" stroke-width="1.00" />
<path d="M319.8 918.5 L357.2 904.4 L392.3 888.1 L427.4 869.4 L548.6 869.4 L548.6 981.6 L521.0 991.0 L474.2 1000.3 L427.4 1005.0 L380.6 1007.3 L319.8 1009.7 Z" fill="#08084c" opacity="0.6" filter="url(#bl4)"/>
<g filter="url(#fBL)" opacity="1"><rect x="317.49" y="868.19" width="231.06" height="141.49" fill="#000" fill-opacity="0"/><path d="M319.8 918.5 L357.2 904.4 L392.3 888.1 L427.4 869.4 L548.6 869.4 L548.6 981.6 L521.0 991.0 L474.2 1000.3 L427.4 1005.0 L380.6 1007.3 L319.8 1009.7 Z" fill="#000" fill-opacity="0.7912" filter="url(#bl4)"/></g>
<g filter="url(#fML)" opacity="0.9"><rect x="317.49" y="868.19" width="231.06" height="141.49" fill="#000" fill-opacity="0"/><path d="M319.8 918.5 L357.2 904.4 L392.3 888.1 L427.4 869.4 L548.6 869.4 L548.6 981.6 L521.0 991.0 L474.2 1000.3 L427.4 1005.0 L380.6 1007.3 L319.8 1009.7 Z" fill="#000" fill-opacity="0.5992" filter="url(#bl4)"/></g>
<ellipse cx="364.3" cy="937.2" rx="34.0" ry="22.0" fill="#40c8e0" opacity="0.35" filter="url(#bl8)"/>
<g filter="url(#fCL)" opacity="1"><rect x="317.49" y="868.19" width="231.06" height="141.49" fill="#000" fill-opacity="0"/><ellipse cx="364.3" cy="937.2" rx="48.0" ry="30.0" fill="#000" fill-opacity="0.94" filter="url(#bl8)"/></g>
<g filter="url(#fWL)" opacity="1"><rect x="317.49" y="868.19" width="231.06" height="141.49" fill="#000" fill-opacity="0"/><path d="M319.8 918.5 L357.2 904.4 L392.3 888.1 L427.4 869.4 L548.6 869.4 L548.6 981.6 L521.0 991.0 L474.2 1000.3 L427.4 1005.0 L380.6 1007.3 L319.8 1009.7 Z" fill="#000" fill-opacity="0.49425" filter="url(#bl4)"/><ellipse cx="364.3" cy="937.2" rx="40.0" ry="26.0" fill="#000" fill-opacity="0.485912" filter="url(#bl8)"/><ellipse cx="450.8" cy="890.4" rx="50.0" ry="20.0" fill="#000" fill-opacity="0.343549" filter="url(#bl8)"/></g>
</g>
<path d="M332.7 1003.1 H392.3 M332.7 1000.6 v5 M392.3 1000.6 v5" stroke="#ddd" stroke-width="0.8" fill="none"/>
<text x="399.81" y="1006.62" font-family="'Liberation Sans', Arial, sans-serif" font-size="9.78" font-weight="bold" fill="#fff" textLength="42.10" lengthAdjust="spacingAndGlyphs">100μm</text>
<path d="M253.18 913.32 L318.66 939.51" stroke="#fff" stroke-width="1.90" fill="none" />
<path d="M250.84 1007.33 L318.66 939.51" stroke="#fff" stroke-width="1.90" fill="none" />
<path d="M251.54 1100.88 L318.66 939.51" stroke="#fff" stroke-width="1.90" fill="none" />
<path d="M249.67 1196.76 L318.66 939.51" stroke="#fff" stroke-width="1.90" fill="none" />
<path d="M319.83 1009.67 L447.99 1116.78" stroke="#ddd" stroke-width="1.20" fill="none" />
<path d="M548.55 1009.67 L483.07 1116.78" stroke="#ddd" stroke-width="1.20" fill="none" />
<rect x="317.49" y="868.19" width="231.06" height="141.49" fill="none" stroke="#fff" stroke-width="2.00" />
<g filter="url(#fC)" opacity="0.8"><rect x="447.99" y="1116.78" width="35.08" height="28.53" fill="#000" fill-opacity="0"/><rect x="447.99" y="1116.78" width="35.08" height="28.53" fill="#000" fill-opacity="0.6164"/></g>
<rect x="447.99" y="1116.78" width="35.08" height="28.53" fill="none" stroke="#fff" stroke-width="2.80" />
<clipPath id="cp15"><rect x="108.00" y="1287.30" width="693.60" height="371.70"/></clipPath>
<rect x="108.00" y="1287.30" width="693.60" height="371.70" fill="#000" stroke="none" stroke-width="1.00" />
<g clip-path="url(#cp15)">
<path d="M258.0 1378.0 L292.0 1344.5 L349.5 1332.5 L407.0 1327.7 L464.6 1332.5 L531.8 1354.0 L599.0 1383.0 L651.7 1411.7 L699.7 1450.0 L738.0 1493.0 L762.0 1531.6 L775.0 1560.0 L780.0 1600.0 L735.0 1600.0 L723.6 1550.8 L704.5 1522.0 L666.0 1479.0 L627.7 1450.0 L579.7 1426.0 L531.8 1407.0 L474.2 1392.5 L407.0 1392.5 L316.0 1402.0 L262.0 1397.0 Z" fill="#05052e" opacity="0.6" filter="url(#bl8)"/>
<g filter="url(#fB2)" opacity="0.75"><rect x="108.00" y="1287.30" width="693.60" height="371.70" fill="#000" fill-opacity="0"/><path d="M258.0 1378.0 L292.0 1344.5 L349.5 1332.5 L407.0 1327.7 L464.6 1332.5 L531.8 1354.0 L599.0 1383.0 L651.7 1411.7 L699.7 1450.0 L738.0 1493.0 L762.0 1531.6 L775.0 1560.0 L780.0 1600.0 L735.0 1600.0 L723.6 1550.8 L704.5 1522.0 L666.0 1479.0 L627.7 1450.0 L579.7 1426.0 L531.8 1407.0 L474.2 1392.5 L407.0 1392.5 L316.0 1402.0 L262.0 1397.0 Z" fill="#000" fill-opacity="0.7912" filter="url(#bl2)"/></g>
<g filter="url(#fM)" opacity="0.7"><rect x="108.00" y="1287.30" width="693.60" height="371.70" fill="#000" fill-opacity="0"/><path d="M258.0 1378.0 L292.0 1344.5 L349.5 1332.5 L407.0 1327.7 L464.6 1332.5 L531.8 1354.0 L599.0 1383.0 L651.7 1411.7 L699.7 1450.0 L738.0 1493.0 L762.0 1531.6 L775.0 1560.0 L780.0 1600.0 L735.0 1600.0 L723.6 1550.8 L704.5 1522.0 L666.0 1479.0 L627.7 1450.0 L579.7 1426.0 L531.8 1407.0 L474.2 1392.5 L407.0 1392.5 L316.0 1402.0 L262.0 1397.0 Z" fill="#000" fill-opacity="0.504" filter="url(#bl2)"/></g>
<g filter="url(#fW)" opacity="0.6"><rect x="108.00" y="1287.30" width="693.60" height="371.70" fill="#000" fill-opacity="0"/><path d="M258.0 1378.0 L292.0 1344.5 L349.5 1332.5 L407.0 1327.7 L464.6 1332.5 L531.8 1354.0 L599.0 1383.0 L651.7 1411.7 L699.7 1450.0 L738.0 1493.0 L762.0 1531.6 L775.0 1560.0 L780.0 1600.0 L735.0 1600.0 L723.6 1550.8 L704.5 1522.0 L666.0 1479.0 L627.7 1450.0 L579.7 1426.0 L531.8 1407.0 L474.2 1392.5 L407.0 1392.5 L316.0 1402.0 L262.0 1397.0 Z" fill="#000" fill-opacity="0.4299" filter="url(#bl2)"/></g>
</g>
<path d="M405.81 1369.96 L312.09 1399.95" stroke="#ddd" stroke-width="1.20" fill="none" />
<path d="M443.30 1369.96 L525.30 1399.95" stroke="#ddd" stroke-width="1.20" fill="none" />
<rect x="405.81" y="1340.44" width="37.49" height="29.52" fill="none" stroke="#fff" stroke-width="2.20" />
<rect x="447.99" y="1360.12" width="5.00" height="4.50" fill="#ddd" stroke="none" stroke-width="1.00" />
<clipPath id="cp16"><rect x="312.09" y="1399.95" width="213.21" height="120.90"/></clipPath>
<g clip-path="url(#cp16)">
<rect x="312.09" y="1399.95" width="213.21" height="120.90" fill="#020218" stroke="none" stroke-width="1.00" />
<rect x="312.09" y="1399.95" width="213.21" height="120.90" fill="#0a0a70" stroke="none" stroke-width="1.00" opacity="0.12"/>
<g filter="url(#fBL)" opacity="1"><rect x="312.09" y="1399.95" width="213.21" height="120.90" fill="#000" fill-opacity="0"/><rect x="312.09" y="1399.95" width="213.21" height="120.90" fill="#000" fill-opacity="0.822"/></g>
<ellipse cx="384.3" cy="1411.7" rx="28.0" ry="9.0" fill="#f02878" opacity="0.5" filter="url(#bl4)"/>
<ellipse cx="473.3" cy="1444.5" rx="16.0" ry="9.0" fill="#f02878" opacity="0.5" filter="url(#bl4)"/>
<ellipse cx="412.4" cy="1437.4" rx="18.0" ry="14.0" fill="#f02878" opacity="0.5" filter="url(#bl4)"/>
<g filter="url(#fML)" opacity="0.95"><rect x="312.09" y="1399.95" width="213.21" height="120.90" fill="#000" fill-opacity="0"/><path d="M318.7 1404.6 L520.1 1404.6 L520.1 1474.9 L421.7 1493.7 L318.7 1493.7 Z" fill="#000" fill-opacity="0.504" filter="url(#bl4)"/><ellipse cx="384.3" cy="1411.7" rx="32.0" ry="13.0" fill="#000" fill-opacity="0.790323" filter="url(#bl4)"/><ellipse cx="473.3" cy="1444.5" rx="20.0" ry="13.0" fill="#000" fill-opacity="0.790323" filter="url(#bl4)"/><ellipse cx="412.4" cy="1437.4" rx="22.0" ry="18.0" fill="#000" fill-opacity="0.790323" filter="url(#bl4)"/></g>
<g filter="url(#fWL)" opacity="0.9"><rect x="312.09" y="1399.95" width="213.21" height="120.90" fill="#000" fill-opacity="0"/><path d="M351.5 1404.6 L506.1 1404.6 L506.1 1484.3 L351.5 1484.3 Z" fill="#000" fill-opacity="0.465" filter="url(#bl4)"/></g>
</g>
<path d="M324.3 1513.8 H377.2 M324.3 1511.3 v5 M377.2 1511.3 v5" stroke="#ddd" stroke-width="0.8" fill="none"/>
<text x="383.32" y="1517.02" font-family="'Liberation Sans', Arial, sans-serif" font-size="8.94" font-weight="bold" fill="#fff" textLength="38.43" lengthAdjust="spacingAndGlyphs">100μm</text>
<rect x="312.09" y="1399.95" width="213.21" height="120.90" fill="none" stroke="#fff" stroke-width="2.00" />
<path d="M418.46 1520.85 L187.44 1547.56" stroke="#fff" stroke-width="1.70" fill="none" />
<path d="M418.46 1520.85 L358.48 1547.56" stroke="#fff" stroke-width="1.70" fill="none" />
<path d="M418.46 1520.85 L522.49 1548.50" stroke="#fff" stroke-width="1.70" fill="none" />
<path d="M418.46 1520.85 L691.19 1548.50" stroke="#fff" stroke-width="1.70" fill="none" />
<clipPath id="cp17"><rect x="115.75" y="1547.56" width="139.64" height="105.44"/></clipPath>
<g clip-path="url(#cp17)">
<rect x="115.75" y="1547.56" width="139.64" height="105.44" fill="#000" stroke="none" stroke-width="1.00" />
<ellipse cx="185.6" cy="1600.3" rx="60.0" ry="40.0" fill="#0a0a70" opacity="0.4" filter="url(#bl8)"/>
<g filter="url(#fB)" opacity="1"><rect x="115.75" y="1547.56" width="139.64" height="105.44" fill="#000" fill-opacity="0"/><rect x="115.75" y="1547.56" width="139.64" height="105.44" fill="#000" fill-opacity="0.866133"/></g>
</g>
<rect x="115.75" y="1547.56" width="139.64" height="105.44" fill="none" stroke="#fff" stroke-width="1.80" />
<clipPath id="cp18"><rect x="287.25" y="1547.56" width="139.64" height="105.44"/></clipPath>
<g clip-path="url(#cp18)">
<rect x="287.25" y="1547.56" width="139.64" height="105.44" fill="#000" stroke="none" stroke-width="1.00" />
<g filter="url(#fR)" opacity="1"><rect x="287.25" y="1547.56" width="139.64" height="105.44" fill="#000" fill-opacity="0"/><rect x="287.25" y="1547.56" width="139.64" height="105.44" fill="#000" fill-opacity="0.43575"/><ellipse cx="350.1" cy="1566.5" rx="32.0" ry="10.0" fill="#000" fill-opacity="0.854674" filter="url(#bl4)"/><ellipse cx="399.0" cy="1591.8" rx="12.0" ry="8.0" fill="#000" fill-opacity="0.854674" filter="url(#bl4)"/><ellipse cx="371.0" cy="1600.3" rx="40.0" ry="22.0" fill="#000" fill-opacity="0.231546" filter="url(#bl8)"/></g>
</g>
<rect x="287.25" y="1547.56" width="139.64" height="105.44" fill="none" stroke="#fff" stroke-width="1.80" />
<clipPath id="cp19"><rect x="454.08" y="1548.50" width="139.64" height="105.44"/></clipPath>
<g clip-path="url(#cp19)">
<rect x="454.08" y="1548.50" width="139.64" height="105.44" fill="#000" stroke="none" stroke-width="1.00" />
<g filter="url(#fC)" opacity="0.75"><rect x="454.08" y="1548.50" width="139.64" height="105.44" fill="#000" fill-opacity="0"/><rect x="454.08" y="1548.50" width="139.64" height="105.44" fill="#000" fill-opacity="0.4008"/><ellipse cx="537.9" cy="1580.1" rx="45.0" ry="20.0" fill="#000" fill-opacity="0.12" filter="url(#bl8)"/></g>
</g>
<rect x="454.08" y="1548.50" width="139.64" height="105.44" fill="none" stroke="#fff" stroke-width="1.80" />
<clipPath id="cp20"><rect x="621.37" y="1548.50" width="139.64" height="104.50"/></clipPath>
<g clip-path="url(#cp20)">
<rect x="621.37" y="1548.50" width="139.64" height="104.50" fill="#000" stroke="none" stroke-width="1.00" />
<g filter="url(#fY)" opacity="0.9"><rect x="621.37" y="1548.50" width="139.64" height="104.50" fill="#000" fill-opacity="0"/><rect x="621.37" y="1548.50" width="139.64" height="104.50" fill="#000" fill-opacity="0.3756"/></g>
</g>
<rect x="621.37" y="1548.50" width="139.64" height="104.50" fill="none" stroke="#fff" stroke-width="1.80" />
<text x="117.15" y="1638.94" font-family="'Liberation Serif', 'Times New Roman', serif" font-size="24.07" font-weight="bold" fill="#0a70c6" stroke="#0a70c6" stroke-width="0.58" text-anchor="start" textLength="67.95" lengthAdjust="spacingAndGlyphs" >DAPI</text>
<text x="294.28" y="1638.94" font-family="'Liberation Serif', 'Times New Roman', serif" font-size="24.07" font-weight="bold" fill="#c20c0c" stroke="#c20c0c" stroke-width="0.58" text-anchor="start" textLength="53.42" lengthAdjust="spacingAndGlyphs" >CD3</text>
<text x="461.57" y="1638.94" font-family="'Liberation Serif', 'Times New Roman', serif" font-size="24.07" font-weight="bold" fill="#24b8d2" stroke="#24b8d2" stroke-width="0.58" text-anchor="start" textLength="53.89" lengthAdjust="spacingAndGlyphs" >CD4</text>
<text x="628.87" y="1638.94" font-family="'Liberation Serif', 'Times New Roman', serif" font-size="24.07" font-weight="bold" fill="#ffc20e" stroke="#ffc20e" stroke-width="0.58" text-anchor="start" textLength="75.45" lengthAdjust="spacingAndGlyphs" >FoxP3</text>
<path d="M120.0 1647.4 H161.7 M120.0 1644.9 v5 M161.7 1644.9 v5" stroke="#ddd" stroke-width="0.8" fill="none"/>
<text x="166.35" y="1649.68" font-family="'Liberation Sans', Arial, sans-serif" font-size="6.42" font-weight="bold" fill="#fff" textLength="30.46" lengthAdjust="spacingAndGlyphs">100μm</text>
<path d="M295.2 1647.4 H331.8 M295.2 1644.9 v5 M331.8 1644.9 v5" stroke="#ddd" stroke-width="0.8" fill="none"/>
<text x="335.52" y="1649.68" font-family="'Liberation Sans', Arial, sans-serif" font-size="6.42" font-weight="bold" fill="#fff" textLength="27.18" lengthAdjust="spacingAndGlyphs">100μm</text>
<path d="M460.2 1647.4 H501.4 M460.2 1644.9 v5 M501.4 1644.9 v5" stroke="#ddd" stroke-width="0.8" fill="none"/>
<text x="505.15" y="1649.68" font-family="'Liberation Sans', Arial, sans-serif" font-size="6.42" font-weight="bold" fill="#fff" textLength="29.99" lengthAdjust="spacingAndGlyphs">100μm</text>
<path d="M627.9 1647.4 H663.5 M627.9 1644.9 v5 M663.5 1644.9 v5" stroke="#ddd" stroke-width="0.8" fill="none"/>
<text x="667.29" y="1649.68" font-family="'Liberation Sans', Arial, sans-serif" font-size="6.42" font-weight="bold" fill="#fff" textLength="27.18" lengthAdjust="spacingAndGlyphs">100μm</text>
</svg></body></html>
